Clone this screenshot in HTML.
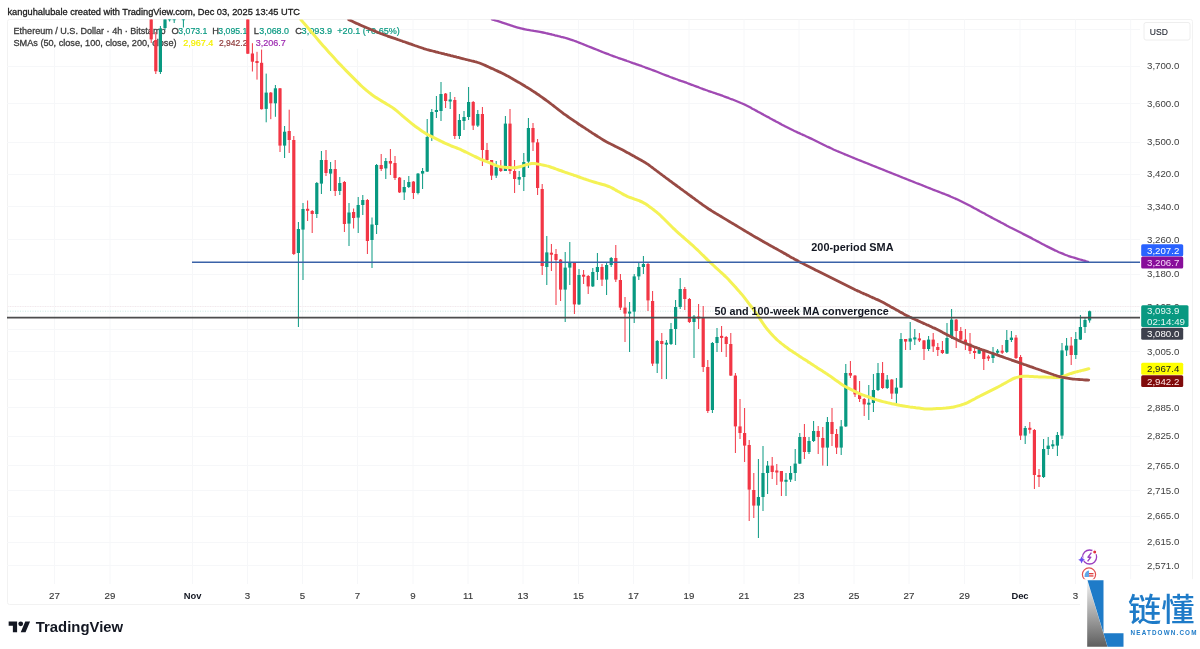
<!DOCTYPE html>
<html><head><meta charset="utf-8"><style>
html,body{margin:0;padding:0;background:#fff;}
body{width:1200px;height:649px;overflow:hidden;position:relative;font-family:"Liberation Sans",Arial,sans-serif;}
svg{position:absolute;left:0;top:0;}
.t{font-family:"Liberation Sans",Arial,sans-serif;}
</style></head><body>
<svg width="1200" height="649" viewBox="0 0 1200 649">
<defs><clipPath id="pane"><rect x="7.5" y="19.5" width="1132.5" height="564.5"/></clipPath>
<linearGradient id="lg" x1="0" y1="0" x2="0" y2="1"><stop offset="0" stop-color="#f4f4f4"/><stop offset="1" stop-color="#5e5e5e"/></linearGradient></defs>
<rect x="7.5" y="19.5" width="1185" height="585" rx="2" fill="#fff" stroke="#f2f2f2" stroke-width="1"/>
<line x1="54.5" y1="49.0" x2="54.5" y2="584" stroke="#f6f7f9" stroke-width="1"/>
<line x1="110.0" y1="49.0" x2="110.0" y2="584" stroke="#f6f7f9" stroke-width="1"/>
<line x1="192.5" y1="49.0" x2="192.5" y2="584" stroke="#f6f7f9" stroke-width="1"/>
<line x1="247.5" y1="49.0" x2="247.5" y2="584" stroke="#f6f7f9" stroke-width="1"/>
<line x1="302.5" y1="49.0" x2="302.5" y2="584" stroke="#f6f7f9" stroke-width="1"/>
<line x1="357.5" y1="49.0" x2="357.5" y2="584" stroke="#f6f7f9" stroke-width="1"/>
<line x1="413.0" y1="19.5" x2="413.0" y2="584" stroke="#f6f7f9" stroke-width="1"/>
<line x1="468.0" y1="19.5" x2="468.0" y2="584" stroke="#f6f7f9" stroke-width="1"/>
<line x1="523.0" y1="19.5" x2="523.0" y2="584" stroke="#f6f7f9" stroke-width="1"/>
<line x1="578.5" y1="19.5" x2="578.5" y2="584" stroke="#f6f7f9" stroke-width="1"/>
<line x1="633.5" y1="19.5" x2="633.5" y2="584" stroke="#f6f7f9" stroke-width="1"/>
<line x1="689.0" y1="19.5" x2="689.0" y2="584" stroke="#f6f7f9" stroke-width="1"/>
<line x1="744.0" y1="19.5" x2="744.0" y2="584" stroke="#f6f7f9" stroke-width="1"/>
<line x1="799.0" y1="19.5" x2="799.0" y2="584" stroke="#f6f7f9" stroke-width="1"/>
<line x1="854.0" y1="19.5" x2="854.0" y2="584" stroke="#f6f7f9" stroke-width="1"/>
<line x1="909.0" y1="19.5" x2="909.0" y2="584" stroke="#f6f7f9" stroke-width="1"/>
<line x1="964.5" y1="19.5" x2="964.5" y2="584" stroke="#f6f7f9" stroke-width="1"/>
<line x1="1020.0" y1="19.5" x2="1020.0" y2="584" stroke="#f6f7f9" stroke-width="1"/>
<line x1="1075.5" y1="19.5" x2="1075.5" y2="584" stroke="#f6f7f9" stroke-width="1"/>
<line x1="1130.7" y1="19.5" x2="1130.7" y2="584" stroke="#f6f7f9" stroke-width="1"/>
<line x1="400" y1="29.5" x2="1140" y2="29.5" stroke="#f6f7f9" stroke-width="1"/>
<line x1="7" y1="66.5" x2="1140" y2="66.5" stroke="#f6f7f9" stroke-width="1"/>
<line x1="7" y1="103.5" x2="1140" y2="103.5" stroke="#f6f7f9" stroke-width="1"/>
<line x1="7" y1="142.5" x2="1140" y2="142.5" stroke="#f6f7f9" stroke-width="1"/>
<line x1="7" y1="174.5" x2="1140" y2="174.5" stroke="#f6f7f9" stroke-width="1"/>
<line x1="7" y1="206.5" x2="1140" y2="206.5" stroke="#f6f7f9" stroke-width="1"/>
<line x1="7" y1="239.5" x2="1140" y2="239.5" stroke="#f6f7f9" stroke-width="1"/>
<line x1="7" y1="274.5" x2="1140" y2="274.5" stroke="#f6f7f9" stroke-width="1"/>
<line x1="7" y1="306.5" x2="1140" y2="306.5" stroke="#f6f7f9" stroke-width="1"/>
<line x1="7" y1="329.5" x2="1140" y2="329.5" stroke="#f6f7f9" stroke-width="1"/>
<line x1="7" y1="351.5" x2="1140" y2="351.5" stroke="#f6f7f9" stroke-width="1"/>
<line x1="7" y1="379.5" x2="1140" y2="379.5" stroke="#f6f7f9" stroke-width="1"/>
<line x1="7" y1="407.5" x2="1140" y2="407.5" stroke="#f6f7f9" stroke-width="1"/>
<line x1="7" y1="436.5" x2="1140" y2="436.5" stroke="#f6f7f9" stroke-width="1"/>
<line x1="7" y1="465.5" x2="1140" y2="465.5" stroke="#f6f7f9" stroke-width="1"/>
<line x1="7" y1="490.5" x2="1140" y2="490.5" stroke="#f6f7f9" stroke-width="1"/>
<line x1="7" y1="516.5" x2="1140" y2="516.5" stroke="#f6f7f9" stroke-width="1"/>
<line x1="7" y1="542.5" x2="1140" y2="542.5" stroke="#f6f7f9" stroke-width="1"/>
<line x1="7" y1="565.5" x2="1140" y2="565.5" stroke="#f6f7f9" stroke-width="1"/>
<text font-family="Liberation Sans, Arial, sans-serif" x="7.5" y="14.8" font-size="9.60" fill="#1a1a1a" stroke="#1a1a1a" stroke-width="0.30" textLength="292.5" lengthAdjust="spacingAndGlyphs" >kanguhalubale created with TradingView.com, Dec 03, 2025 13:45 UTC</text>
<text font-family="Liberation Sans, Arial, sans-serif" x="13.5" y="33.9" font-size="9.30" fill="#3a3a3a" stroke="#3a3a3a" stroke-width="0.30" textLength="152.0" lengthAdjust="spacingAndGlyphs" >Ethereum / U.S. Dollar · 4h · Bitstamp</text>
<text font-family="Liberation Sans, Arial, sans-serif" x="171.5" y="33.9" font-size="9.30" fill="#3a3a3a" stroke="#3a3a3a" stroke-width="0.30" >O</text>
<text font-family="Liberation Sans, Arial, sans-serif" x="178.3" y="33.9" font-size="9.30" fill="#089981" stroke="#089981" stroke-width="0.20" textLength="29.0" lengthAdjust="spacingAndGlyphs" >3,073.1</text>
<text font-family="Liberation Sans, Arial, sans-serif" x="212.3" y="33.9" font-size="9.30" fill="#3a3a3a" stroke="#3a3a3a" stroke-width="0.30" >H</text>
<text font-family="Liberation Sans, Arial, sans-serif" x="218.3" y="33.9" font-size="9.30" fill="#089981" stroke="#089981" stroke-width="0.20" textLength="29.0" lengthAdjust="spacingAndGlyphs" >3,095.1</text>
<text font-family="Liberation Sans, Arial, sans-serif" x="253.8" y="33.9" font-size="9.30" fill="#3a3a3a" stroke="#3a3a3a" stroke-width="0.30" >L</text>
<text font-family="Liberation Sans, Arial, sans-serif" x="259.3" y="33.9" font-size="9.30" fill="#089981" stroke="#089981" stroke-width="0.20" textLength="29.7" lengthAdjust="spacingAndGlyphs" >3,068.0</text>
<text font-family="Liberation Sans, Arial, sans-serif" x="295.2" y="33.9" font-size="9.30" fill="#3a3a3a" stroke="#3a3a3a" stroke-width="0.30" >C</text>
<text font-family="Liberation Sans, Arial, sans-serif" x="301.6" y="33.9" font-size="9.30" fill="#089981" stroke="#089981" stroke-width="0.20" textLength="30.5" lengthAdjust="spacingAndGlyphs" >3,093.9</text>
<text font-family="Liberation Sans, Arial, sans-serif" x="337.3" y="33.9" font-size="9.30" fill="#089981" stroke="#089981" stroke-width="0.20" textLength="62.5" lengthAdjust="spacingAndGlyphs" >+20.1 (+0.65%)</text>
<text font-family="Liberation Sans, Arial, sans-serif" x="13.5" y="46.2" font-size="9.30" fill="#3a3a3a" stroke="#3a3a3a" stroke-width="0.30" textLength="163.0" lengthAdjust="spacingAndGlyphs" >SMAs (50, close, 100, close, 200, close)</text>
<text font-family="Liberation Sans, Arial, sans-serif" x="183.3" y="46.2" font-size="9.30" fill="#f5f000" stroke="#f5f000" stroke-width="0.20" textLength="30.0" lengthAdjust="spacingAndGlyphs" >2,967.4</text>
<text font-family="Liberation Sans, Arial, sans-serif" x="219.0" y="46.2" font-size="9.30" fill="#8e3a3a" stroke="#8e3a3a" stroke-width="0.20" textLength="28.5" lengthAdjust="spacingAndGlyphs" >2,942.2</text>
<text font-family="Liberation Sans, Arial, sans-serif" x="255.7" y="46.2" font-size="9.30" fill="#9c27b0" stroke="#9c27b0" stroke-width="0.20" textLength="30.0" lengthAdjust="spacingAndGlyphs" >3,206.7</text>
<g clip-path="url(#pane)">
<line x1="151.20" y1="19.0" x2="151.20" y2="43.0" stroke="#F23645" stroke-width="1"/>
<rect x="149.60" y="19.0" width="3.2" height="20.4" fill="#F23645"/>
<line x1="155.80" y1="32.0" x2="155.80" y2="74.0" stroke="#F23645" stroke-width="1"/>
<rect x="154.20" y="40.0" width="3.2" height="31.3" fill="#F23645"/>
<line x1="160.40" y1="26.0" x2="160.40" y2="74.0" stroke="#089981" stroke-width="1"/>
<rect x="158.80" y="28.5" width="3.2" height="43.5" fill="#089981"/>
<line x1="165.00" y1="19.0" x2="165.00" y2="30.0" stroke="#089981" stroke-width="1"/>
<rect x="163.40" y="19.0" width="3.2" height="9.0" fill="#089981"/>
<line x1="169.60" y1="19.0" x2="169.60" y2="21.5" stroke="#089981" stroke-width="1"/>
<rect x="168.00" y="18.2" width="3.2" height="2.0" fill="#089981"/>
<line x1="174.20" y1="19.0" x2="174.20" y2="23.0" stroke="#089981" stroke-width="1"/>
<rect x="172.60" y="18.2" width="3.2" height="2.0" fill="#089981"/>
<line x1="183.40" y1="19.0" x2="183.40" y2="27.5" stroke="#089981" stroke-width="1"/>
<rect x="181.80" y="18.2" width="3.2" height="2.0" fill="#089981"/>
<line x1="247.80" y1="19.0" x2="247.80" y2="54.0" stroke="#F23645" stroke-width="1"/>
<rect x="246.20" y="19.0" width="3.2" height="34.7" fill="#F23645"/>
<line x1="252.40" y1="43.2" x2="252.40" y2="71.5" stroke="#F23645" stroke-width="1"/>
<rect x="250.80" y="53.5" width="3.2" height="8.2" fill="#F23645"/>
<line x1="257.00" y1="51.8" x2="257.00" y2="79.6" stroke="#F23645" stroke-width="1"/>
<rect x="255.40" y="61.0" width="3.2" height="2.0" fill="#F23645"/>
<line x1="261.60" y1="49.6" x2="261.60" y2="109.5" stroke="#F23645" stroke-width="1"/>
<rect x="260.00" y="62.8" width="3.2" height="46.4" fill="#F23645"/>
<line x1="266.20" y1="73.6" x2="266.20" y2="122.3" stroke="#089981" stroke-width="1"/>
<rect x="264.60" y="92.6" width="3.2" height="16.3" fill="#089981"/>
<line x1="270.80" y1="92.0" x2="270.80" y2="119.2" stroke="#F23645" stroke-width="1"/>
<rect x="269.20" y="92.6" width="3.2" height="10.7" fill="#F23645"/>
<line x1="275.40" y1="85.0" x2="275.40" y2="116.8" stroke="#089981" stroke-width="1"/>
<rect x="273.80" y="88.3" width="3.2" height="15.0" fill="#089981"/>
<line x1="280.00" y1="88.0" x2="280.00" y2="152.0" stroke="#F23645" stroke-width="1"/>
<rect x="278.40" y="88.3" width="3.2" height="57.3" fill="#F23645"/>
<line x1="284.60" y1="126.0" x2="284.60" y2="158.0" stroke="#089981" stroke-width="1"/>
<rect x="283.00" y="131.7" width="3.2" height="13.9" fill="#089981"/>
<line x1="289.20" y1="109.7" x2="289.20" y2="153.0" stroke="#F23645" stroke-width="1"/>
<rect x="287.60" y="131.0" width="3.2" height="9.0" fill="#F23645"/>
<line x1="293.80" y1="136.0" x2="293.80" y2="255.0" stroke="#F23645" stroke-width="1"/>
<rect x="292.20" y="140.0" width="3.2" height="114.0" fill="#F23645"/>
<line x1="298.40" y1="222.0" x2="298.40" y2="327.0" stroke="#089981" stroke-width="1"/>
<rect x="296.80" y="229.0" width="3.2" height="24.0" fill="#089981"/>
<line x1="303.00" y1="203.0" x2="303.00" y2="280.0" stroke="#089981" stroke-width="1"/>
<rect x="301.40" y="209.0" width="3.2" height="20.6" fill="#089981"/>
<line x1="307.60" y1="200.5" x2="307.60" y2="221.0" stroke="#F23645" stroke-width="1"/>
<rect x="306.00" y="208.8" width="3.2" height="2.0" fill="#F23645"/>
<line x1="312.20" y1="210.0" x2="312.20" y2="233.0" stroke="#F23645" stroke-width="1"/>
<rect x="310.60" y="211.0" width="3.2" height="3.0" fill="#F23645"/>
<line x1="316.80" y1="182.0" x2="316.80" y2="218.0" stroke="#089981" stroke-width="1"/>
<rect x="315.20" y="183.0" width="3.2" height="31.0" fill="#089981"/>
<line x1="321.40" y1="151.0" x2="321.40" y2="194.0" stroke="#089981" stroke-width="1"/>
<rect x="319.80" y="160.0" width="3.2" height="23.6" fill="#089981"/>
<line x1="326.00" y1="150.0" x2="326.00" y2="176.0" stroke="#F23645" stroke-width="1"/>
<rect x="324.40" y="160.0" width="3.2" height="13.0" fill="#F23645"/>
<line x1="330.60" y1="162.0" x2="330.60" y2="191.0" stroke="#089981" stroke-width="1"/>
<rect x="329.00" y="169.0" width="3.2" height="4.6" fill="#089981"/>
<line x1="335.20" y1="160.0" x2="335.20" y2="196.0" stroke="#F23645" stroke-width="1"/>
<rect x="333.60" y="169.0" width="3.2" height="22.0" fill="#F23645"/>
<line x1="339.80" y1="177.0" x2="339.80" y2="195.0" stroke="#089981" stroke-width="1"/>
<rect x="338.20" y="183.0" width="3.2" height="8.0" fill="#089981"/>
<line x1="344.40" y1="181.0" x2="344.40" y2="232.0" stroke="#F23645" stroke-width="1"/>
<rect x="342.80" y="182.0" width="3.2" height="42.0" fill="#F23645"/>
<line x1="349.00" y1="203.0" x2="349.00" y2="246.0" stroke="#089981" stroke-width="1"/>
<rect x="347.40" y="212.5" width="3.2" height="11.1" fill="#089981"/>
<line x1="353.60" y1="208.5" x2="353.60" y2="228.5" stroke="#F23645" stroke-width="1"/>
<rect x="352.00" y="212.0" width="3.2" height="6.0" fill="#F23645"/>
<line x1="358.20" y1="197.0" x2="358.20" y2="233.0" stroke="#089981" stroke-width="1"/>
<rect x="356.60" y="205.0" width="3.2" height="12.6" fill="#089981"/>
<line x1="362.80" y1="195.0" x2="362.80" y2="215.0" stroke="#089981" stroke-width="1"/>
<rect x="361.20" y="200.0" width="3.2" height="5.0" fill="#089981"/>
<line x1="367.40" y1="199.0" x2="367.40" y2="254.0" stroke="#F23645" stroke-width="1"/>
<rect x="365.80" y="200.0" width="3.2" height="41.0" fill="#F23645"/>
<line x1="372.00" y1="217.5" x2="372.00" y2="268.0" stroke="#089981" stroke-width="1"/>
<rect x="370.40" y="224.5" width="3.2" height="15.5" fill="#089981"/>
<line x1="376.60" y1="164.0" x2="376.60" y2="234.0" stroke="#089981" stroke-width="1"/>
<rect x="375.00" y="165.0" width="3.2" height="60.0" fill="#089981"/>
<line x1="381.20" y1="154.0" x2="381.20" y2="171.0" stroke="#F23645" stroke-width="1"/>
<rect x="379.60" y="165.0" width="3.2" height="4.0" fill="#F23645"/>
<line x1="385.80" y1="158.0" x2="385.80" y2="179.0" stroke="#089981" stroke-width="1"/>
<rect x="384.20" y="161.0" width="3.2" height="7.4" fill="#089981"/>
<line x1="390.40" y1="149.0" x2="390.40" y2="175.0" stroke="#F23645" stroke-width="1"/>
<rect x="388.80" y="161.0" width="3.2" height="2.6" fill="#F23645"/>
<line x1="395.00" y1="156.0" x2="395.00" y2="180.0" stroke="#F23645" stroke-width="1"/>
<rect x="393.40" y="163.0" width="3.2" height="15.0" fill="#F23645"/>
<line x1="399.60" y1="177.0" x2="399.60" y2="193.0" stroke="#F23645" stroke-width="1"/>
<rect x="398.00" y="177.6" width="3.2" height="14.8" fill="#F23645"/>
<line x1="404.20" y1="180.0" x2="404.20" y2="200.0" stroke="#089981" stroke-width="1"/>
<rect x="402.60" y="187.0" width="3.2" height="5.4" fill="#089981"/>
<line x1="408.80" y1="176.0" x2="408.80" y2="188.0" stroke="#089981" stroke-width="1"/>
<rect x="407.20" y="182.0" width="3.2" height="5.0" fill="#089981"/>
<line x1="413.40" y1="181.0" x2="413.40" y2="199.0" stroke="#F23645" stroke-width="1"/>
<rect x="411.80" y="181.6" width="3.2" height="11.4" fill="#F23645"/>
<line x1="418.00" y1="173.0" x2="418.00" y2="194.4" stroke="#089981" stroke-width="1"/>
<rect x="416.40" y="173.6" width="3.2" height="19.4" fill="#089981"/>
<line x1="422.60" y1="168.0" x2="422.60" y2="189.0" stroke="#089981" stroke-width="1"/>
<rect x="421.00" y="171.0" width="3.2" height="2.6" fill="#089981"/>
<line x1="427.20" y1="119.0" x2="427.20" y2="172.0" stroke="#089981" stroke-width="1"/>
<rect x="425.60" y="137.0" width="3.2" height="34.6" fill="#089981"/>
<line x1="431.80" y1="109.0" x2="431.80" y2="141.0" stroke="#089981" stroke-width="1"/>
<rect x="430.20" y="112.0" width="3.2" height="25.0" fill="#089981"/>
<line x1="436.40" y1="96.0" x2="436.40" y2="118.0" stroke="#089981" stroke-width="1"/>
<rect x="434.80" y="110.0" width="3.2" height="2.0" fill="#089981"/>
<line x1="441.00" y1="82.0" x2="441.00" y2="121.0" stroke="#089981" stroke-width="1"/>
<rect x="439.40" y="94.0" width="3.2" height="17.0" fill="#089981"/>
<line x1="445.60" y1="93.0" x2="445.60" y2="108.0" stroke="#F23645" stroke-width="1"/>
<rect x="444.00" y="93.6" width="3.2" height="7.4" fill="#F23645"/>
<line x1="450.20" y1="92.0" x2="450.20" y2="109.0" stroke="#089981" stroke-width="1"/>
<rect x="448.60" y="99.5" width="3.2" height="2.0" fill="#089981"/>
<line x1="454.80" y1="97.0" x2="454.80" y2="139.0" stroke="#F23645" stroke-width="1"/>
<rect x="453.20" y="100.0" width="3.2" height="36.0" fill="#F23645"/>
<line x1="459.40" y1="114.0" x2="459.40" y2="139.0" stroke="#089981" stroke-width="1"/>
<rect x="457.80" y="120.0" width="3.2" height="16.0" fill="#089981"/>
<line x1="464.00" y1="111.0" x2="464.00" y2="130.0" stroke="#089981" stroke-width="1"/>
<rect x="462.40" y="117.0" width="3.2" height="4.0" fill="#089981"/>
<line x1="468.60" y1="87.0" x2="468.60" y2="120.0" stroke="#089981" stroke-width="1"/>
<rect x="467.00" y="102.0" width="3.2" height="15.0" fill="#089981"/>
<line x1="473.20" y1="101.0" x2="473.20" y2="130.0" stroke="#F23645" stroke-width="1"/>
<rect x="471.60" y="102.0" width="3.2" height="23.6" fill="#F23645"/>
<line x1="477.80" y1="110.0" x2="477.80" y2="127.0" stroke="#089981" stroke-width="1"/>
<rect x="476.20" y="114.0" width="3.2" height="11.6" fill="#089981"/>
<line x1="482.40" y1="107.0" x2="482.40" y2="166.0" stroke="#F23645" stroke-width="1"/>
<rect x="480.80" y="114.0" width="3.2" height="36.0" fill="#F23645"/>
<line x1="487.00" y1="143.0" x2="487.00" y2="163.0" stroke="#F23645" stroke-width="1"/>
<rect x="485.40" y="150.0" width="3.2" height="10.0" fill="#F23645"/>
<line x1="491.60" y1="160.0" x2="491.60" y2="180.0" stroke="#F23645" stroke-width="1"/>
<rect x="490.00" y="160.0" width="3.2" height="15.6" fill="#F23645"/>
<line x1="496.20" y1="161.0" x2="496.20" y2="178.0" stroke="#089981" stroke-width="1"/>
<rect x="494.60" y="167.0" width="3.2" height="8.6" fill="#089981"/>
<line x1="500.80" y1="160.0" x2="500.80" y2="172.0" stroke="#F23645" stroke-width="1"/>
<rect x="499.20" y="167.0" width="3.2" height="4.0" fill="#F23645"/>
<line x1="505.40" y1="116.0" x2="505.40" y2="171.0" stroke="#089981" stroke-width="1"/>
<rect x="503.80" y="123.6" width="3.2" height="47.4" fill="#089981"/>
<line x1="510.00" y1="109.0" x2="510.00" y2="174.0" stroke="#F23645" stroke-width="1"/>
<rect x="508.40" y="123.6" width="3.2" height="47.4" fill="#F23645"/>
<line x1="514.60" y1="160.0" x2="514.60" y2="193.0" stroke="#F23645" stroke-width="1"/>
<rect x="513.00" y="171.0" width="3.2" height="8.0" fill="#F23645"/>
<line x1="519.20" y1="171.0" x2="519.20" y2="185.0" stroke="#089981" stroke-width="1"/>
<rect x="517.60" y="177.0" width="3.2" height="2.6" fill="#089981"/>
<line x1="523.80" y1="153.0" x2="523.80" y2="191.0" stroke="#089981" stroke-width="1"/>
<rect x="522.20" y="162.0" width="3.2" height="15.0" fill="#089981"/>
<line x1="528.40" y1="118.0" x2="528.40" y2="168.0" stroke="#089981" stroke-width="1"/>
<rect x="526.80" y="128.0" width="3.2" height="33.6" fill="#089981"/>
<line x1="533.00" y1="123.0" x2="533.00" y2="151.0" stroke="#F23645" stroke-width="1"/>
<rect x="531.40" y="128.0" width="3.2" height="14.4" fill="#F23645"/>
<line x1="537.60" y1="139.0" x2="537.60" y2="195.0" stroke="#F23645" stroke-width="1"/>
<rect x="536.00" y="142.4" width="3.2" height="45.6" fill="#F23645"/>
<line x1="542.20" y1="184.0" x2="542.20" y2="275.0" stroke="#F23645" stroke-width="1"/>
<rect x="540.60" y="189.0" width="3.2" height="77.0" fill="#F23645"/>
<line x1="546.80" y1="236.0" x2="546.80" y2="285.0" stroke="#089981" stroke-width="1"/>
<rect x="545.20" y="252.4" width="3.2" height="14.6" fill="#089981"/>
<line x1="551.40" y1="244.0" x2="551.40" y2="271.0" stroke="#F23645" stroke-width="1"/>
<rect x="549.80" y="252.7" width="3.2" height="2.0" fill="#F23645"/>
<line x1="556.00" y1="249.0" x2="556.00" y2="305.0" stroke="#F23645" stroke-width="1"/>
<rect x="554.40" y="254.0" width="3.2" height="6.0" fill="#F23645"/>
<line x1="560.60" y1="259.0" x2="560.60" y2="301.0" stroke="#F23645" stroke-width="1"/>
<rect x="559.00" y="259.6" width="3.2" height="30.0" fill="#F23645"/>
<line x1="565.20" y1="252.0" x2="565.20" y2="322.0" stroke="#089981" stroke-width="1"/>
<rect x="563.60" y="267.6" width="3.2" height="22.0" fill="#089981"/>
<line x1="569.80" y1="242.0" x2="569.80" y2="285.0" stroke="#089981" stroke-width="1"/>
<rect x="568.20" y="262.4" width="3.2" height="5.2" fill="#089981"/>
<line x1="574.40" y1="262.0" x2="574.40" y2="314.0" stroke="#F23645" stroke-width="1"/>
<rect x="572.80" y="262.4" width="3.2" height="42.0" fill="#F23645"/>
<line x1="579.00" y1="269.0" x2="579.00" y2="305.0" stroke="#089981" stroke-width="1"/>
<rect x="577.40" y="275.0" width="3.2" height="29.4" fill="#089981"/>
<line x1="583.60" y1="270.0" x2="583.60" y2="284.0" stroke="#F23645" stroke-width="1"/>
<rect x="582.00" y="274.7" width="3.2" height="2.0" fill="#F23645"/>
<line x1="588.20" y1="275.0" x2="588.20" y2="294.0" stroke="#F23645" stroke-width="1"/>
<rect x="586.60" y="276.0" width="3.2" height="10.4" fill="#F23645"/>
<line x1="592.80" y1="268.0" x2="592.80" y2="287.0" stroke="#089981" stroke-width="1"/>
<rect x="591.20" y="272.0" width="3.2" height="14.4" fill="#089981"/>
<line x1="597.40" y1="253.0" x2="597.40" y2="280.0" stroke="#089981" stroke-width="1"/>
<rect x="595.80" y="267.0" width="3.2" height="5.0" fill="#089981"/>
<line x1="602.00" y1="264.0" x2="602.00" y2="286.0" stroke="#F23645" stroke-width="1"/>
<rect x="600.40" y="267.0" width="3.2" height="12.6" fill="#F23645"/>
<line x1="606.60" y1="262.0" x2="606.60" y2="295.0" stroke="#089981" stroke-width="1"/>
<rect x="605.00" y="265.0" width="3.2" height="14.6" fill="#089981"/>
<line x1="611.20" y1="257.0" x2="611.20" y2="267.0" stroke="#089981" stroke-width="1"/>
<rect x="609.60" y="258.0" width="3.2" height="7.0" fill="#089981"/>
<line x1="615.80" y1="245.0" x2="615.80" y2="282.0" stroke="#F23645" stroke-width="1"/>
<rect x="614.20" y="258.0" width="3.2" height="21.6" fill="#F23645"/>
<line x1="620.40" y1="274.0" x2="620.40" y2="310.0" stroke="#F23645" stroke-width="1"/>
<rect x="618.80" y="280.0" width="3.2" height="27.6" fill="#F23645"/>
<line x1="625.00" y1="297.0" x2="625.00" y2="342.0" stroke="#F23645" stroke-width="1"/>
<rect x="623.40" y="307.6" width="3.2" height="6.0" fill="#F23645"/>
<line x1="629.60" y1="302.0" x2="629.60" y2="352.0" stroke="#089981" stroke-width="1"/>
<rect x="628.00" y="311.6" width="3.2" height="2.0" fill="#089981"/>
<line x1="634.20" y1="274.0" x2="634.20" y2="323.0" stroke="#089981" stroke-width="1"/>
<rect x="632.60" y="276.4" width="3.2" height="35.2" fill="#089981"/>
<line x1="638.80" y1="263.0" x2="638.80" y2="280.0" stroke="#089981" stroke-width="1"/>
<rect x="637.20" y="267.0" width="3.2" height="9.4" fill="#089981"/>
<line x1="643.40" y1="256.0" x2="643.40" y2="274.0" stroke="#089981" stroke-width="1"/>
<rect x="641.80" y="264.0" width="3.2" height="3.0" fill="#089981"/>
<line x1="648.00" y1="263.0" x2="648.00" y2="311.0" stroke="#F23645" stroke-width="1"/>
<rect x="646.40" y="264.0" width="3.2" height="36.4" fill="#F23645"/>
<line x1="652.60" y1="291.0" x2="652.60" y2="366.0" stroke="#F23645" stroke-width="1"/>
<rect x="651.00" y="301.0" width="3.2" height="62.6" fill="#F23645"/>
<line x1="657.20" y1="340.0" x2="657.20" y2="373.0" stroke="#089981" stroke-width="1"/>
<rect x="655.60" y="341.0" width="3.2" height="22.6" fill="#089981"/>
<line x1="661.80" y1="333.0" x2="661.80" y2="379.0" stroke="#F23645" stroke-width="1"/>
<rect x="660.20" y="341.0" width="3.2" height="3.0" fill="#F23645"/>
<line x1="666.40" y1="340.0" x2="666.40" y2="379.0" stroke="#089981" stroke-width="1"/>
<rect x="664.80" y="342.7" width="3.2" height="2.0" fill="#089981"/>
<line x1="671.00" y1="323.0" x2="671.00" y2="345.0" stroke="#089981" stroke-width="1"/>
<rect x="669.40" y="329.0" width="3.2" height="15.0" fill="#089981"/>
<line x1="675.60" y1="300.0" x2="675.60" y2="345.0" stroke="#089981" stroke-width="1"/>
<rect x="674.00" y="307.0" width="3.2" height="22.0" fill="#089981"/>
<line x1="680.20" y1="278.0" x2="680.20" y2="309.0" stroke="#089981" stroke-width="1"/>
<rect x="678.60" y="289.0" width="3.2" height="18.0" fill="#089981"/>
<line x1="684.80" y1="287.0" x2="684.80" y2="310.0" stroke="#F23645" stroke-width="1"/>
<rect x="683.20" y="289.0" width="3.2" height="10.0" fill="#F23645"/>
<line x1="689.40" y1="298.0" x2="689.40" y2="323.0" stroke="#F23645" stroke-width="1"/>
<rect x="687.80" y="299.0" width="3.2" height="23.0" fill="#F23645"/>
<line x1="694.00" y1="315.0" x2="694.00" y2="358.0" stroke="#089981" stroke-width="1"/>
<rect x="692.40" y="316.6" width="3.2" height="5.4" fill="#089981"/>
<line x1="698.60" y1="304.0" x2="698.60" y2="329.0" stroke="#F23645" stroke-width="1"/>
<rect x="697.00" y="316.5" width="3.2" height="2.0" fill="#F23645"/>
<line x1="703.20" y1="306.0" x2="703.20" y2="372.0" stroke="#F23645" stroke-width="1"/>
<rect x="701.60" y="317.0" width="3.2" height="50.0" fill="#F23645"/>
<line x1="707.80" y1="360.0" x2="707.80" y2="413.0" stroke="#F23645" stroke-width="1"/>
<rect x="706.20" y="367.0" width="3.2" height="44.0" fill="#F23645"/>
<line x1="712.40" y1="342.0" x2="712.40" y2="413.0" stroke="#089981" stroke-width="1"/>
<rect x="710.80" y="343.0" width="3.2" height="67.0" fill="#089981"/>
<line x1="717.00" y1="328.0" x2="717.00" y2="352.0" stroke="#089981" stroke-width="1"/>
<rect x="715.40" y="337.0" width="3.2" height="6.0" fill="#089981"/>
<line x1="721.60" y1="326.0" x2="721.60" y2="352.0" stroke="#F23645" stroke-width="1"/>
<rect x="720.00" y="335.9" width="3.2" height="2.0" fill="#F23645"/>
<line x1="726.20" y1="336.0" x2="726.20" y2="357.0" stroke="#F23645" stroke-width="1"/>
<rect x="724.60" y="337.0" width="3.2" height="7.0" fill="#F23645"/>
<line x1="730.80" y1="333.0" x2="730.80" y2="376.0" stroke="#F23645" stroke-width="1"/>
<rect x="729.20" y="344.0" width="3.2" height="31.6" fill="#F23645"/>
<line x1="735.40" y1="373.0" x2="735.40" y2="453.0" stroke="#F23645" stroke-width="1"/>
<rect x="733.80" y="375.6" width="3.2" height="50.8" fill="#F23645"/>
<line x1="740.00" y1="399.0" x2="740.00" y2="439.0" stroke="#F23645" stroke-width="1"/>
<rect x="738.40" y="426.4" width="3.2" height="6.6" fill="#F23645"/>
<line x1="744.60" y1="408.0" x2="744.60" y2="462.0" stroke="#F23645" stroke-width="1"/>
<rect x="743.00" y="433.0" width="3.2" height="12.6" fill="#F23645"/>
<line x1="749.20" y1="440.0" x2="749.20" y2="521.0" stroke="#F23645" stroke-width="1"/>
<rect x="747.60" y="445.0" width="3.2" height="44.6" fill="#F23645"/>
<line x1="753.80" y1="473.0" x2="753.80" y2="518.0" stroke="#F23645" stroke-width="1"/>
<rect x="752.20" y="490.0" width="3.2" height="15.6" fill="#F23645"/>
<line x1="758.40" y1="459.0" x2="758.40" y2="538.0" stroke="#089981" stroke-width="1"/>
<rect x="756.80" y="497.0" width="3.2" height="8.6" fill="#089981"/>
<line x1="763.00" y1="446.0" x2="763.00" y2="511.0" stroke="#089981" stroke-width="1"/>
<rect x="761.40" y="473.0" width="3.2" height="24.0" fill="#089981"/>
<line x1="767.60" y1="461.0" x2="767.60" y2="494.0" stroke="#089981" stroke-width="1"/>
<rect x="766.00" y="465.6" width="3.2" height="7.4" fill="#089981"/>
<line x1="772.20" y1="457.0" x2="772.20" y2="479.0" stroke="#F23645" stroke-width="1"/>
<rect x="770.60" y="465.6" width="3.2" height="6.4" fill="#F23645"/>
<line x1="776.80" y1="464.0" x2="776.80" y2="485.0" stroke="#F23645" stroke-width="1"/>
<rect x="775.20" y="470.5" width="3.2" height="2.0" fill="#F23645"/>
<line x1="781.40" y1="471.0" x2="781.40" y2="496.0" stroke="#F23645" stroke-width="1"/>
<rect x="779.80" y="471.0" width="3.2" height="10.6" fill="#F23645"/>
<line x1="786.00" y1="473.0" x2="786.00" y2="496.0" stroke="#089981" stroke-width="1"/>
<rect x="784.40" y="479.8" width="3.2" height="2.0" fill="#089981"/>
<line x1="790.60" y1="466.0" x2="790.60" y2="482.0" stroke="#089981" stroke-width="1"/>
<rect x="789.00" y="473.0" width="3.2" height="6.6" fill="#089981"/>
<line x1="795.20" y1="449.0" x2="795.20" y2="481.0" stroke="#089981" stroke-width="1"/>
<rect x="793.60" y="463.6" width="3.2" height="9.4" fill="#089981"/>
<line x1="799.80" y1="433.0" x2="799.80" y2="464.0" stroke="#089981" stroke-width="1"/>
<rect x="798.20" y="437.0" width="3.2" height="26.6" fill="#089981"/>
<line x1="804.40" y1="424.0" x2="804.40" y2="459.0" stroke="#F23645" stroke-width="1"/>
<rect x="802.80" y="437.0" width="3.2" height="15.0" fill="#F23645"/>
<line x1="809.00" y1="437.0" x2="809.00" y2="454.0" stroke="#089981" stroke-width="1"/>
<rect x="807.40" y="441.0" width="3.2" height="11.0" fill="#089981"/>
<line x1="813.60" y1="421.0" x2="813.60" y2="442.0" stroke="#089981" stroke-width="1"/>
<rect x="812.00" y="431.0" width="3.2" height="10.0" fill="#089981"/>
<line x1="818.20" y1="426.0" x2="818.20" y2="454.0" stroke="#F23645" stroke-width="1"/>
<rect x="816.60" y="431.0" width="3.2" height="6.0" fill="#F23645"/>
<line x1="822.80" y1="427.0" x2="822.80" y2="465.6" stroke="#F23645" stroke-width="1"/>
<rect x="821.20" y="438.0" width="3.2" height="9.6" fill="#F23645"/>
<line x1="827.40" y1="417.0" x2="827.40" y2="466.0" stroke="#089981" stroke-width="1"/>
<rect x="825.80" y="422.0" width="3.2" height="25.6" fill="#089981"/>
<line x1="832.00" y1="408.0" x2="832.00" y2="446.0" stroke="#F23645" stroke-width="1"/>
<rect x="830.40" y="422.0" width="3.2" height="12.0" fill="#F23645"/>
<line x1="836.60" y1="429.0" x2="836.60" y2="454.0" stroke="#F23645" stroke-width="1"/>
<rect x="835.00" y="434.0" width="3.2" height="13.6" fill="#F23645"/>
<line x1="841.20" y1="420.0" x2="841.20" y2="455.0" stroke="#089981" stroke-width="1"/>
<rect x="839.60" y="426.4" width="3.2" height="21.2" fill="#089981"/>
<line x1="845.80" y1="364.0" x2="845.80" y2="427.0" stroke="#089981" stroke-width="1"/>
<rect x="844.20" y="373.0" width="3.2" height="53.4" fill="#089981"/>
<line x1="850.40" y1="361.0" x2="850.40" y2="378.0" stroke="#F23645" stroke-width="1"/>
<rect x="848.80" y="373.0" width="3.2" height="2.6" fill="#F23645"/>
<line x1="855.00" y1="375.0" x2="855.00" y2="397.0" stroke="#F23645" stroke-width="1"/>
<rect x="853.40" y="375.6" width="3.2" height="18.8" fill="#F23645"/>
<line x1="859.60" y1="381.0" x2="859.60" y2="402.0" stroke="#F23645" stroke-width="1"/>
<rect x="858.00" y="394.4" width="3.2" height="4.6" fill="#F23645"/>
<line x1="864.20" y1="398.0" x2="864.20" y2="416.0" stroke="#F23645" stroke-width="1"/>
<rect x="862.60" y="399.0" width="3.2" height="5.4" fill="#F23645"/>
<line x1="868.80" y1="385.0" x2="868.80" y2="420.0" stroke="#089981" stroke-width="1"/>
<rect x="867.20" y="402.7" width="3.2" height="2.0" fill="#089981"/>
<line x1="873.40" y1="374.0" x2="873.40" y2="412.0" stroke="#089981" stroke-width="1"/>
<rect x="871.80" y="390.0" width="3.2" height="13.0" fill="#089981"/>
<line x1="878.00" y1="363.0" x2="878.00" y2="391.0" stroke="#089981" stroke-width="1"/>
<rect x="876.40" y="373.0" width="3.2" height="17.0" fill="#089981"/>
<line x1="882.60" y1="362.0" x2="882.60" y2="389.0" stroke="#F23645" stroke-width="1"/>
<rect x="881.00" y="373.0" width="3.2" height="15.0" fill="#F23645"/>
<line x1="887.20" y1="375.0" x2="887.20" y2="389.0" stroke="#089981" stroke-width="1"/>
<rect x="885.60" y="379.6" width="3.2" height="8.4" fill="#089981"/>
<line x1="891.80" y1="379.0" x2="891.80" y2="399.0" stroke="#F23645" stroke-width="1"/>
<rect x="890.20" y="379.6" width="3.2" height="14.0" fill="#F23645"/>
<line x1="896.40" y1="378.0" x2="896.40" y2="405.0" stroke="#089981" stroke-width="1"/>
<rect x="894.80" y="387.6" width="3.2" height="6.0" fill="#089981"/>
<line x1="901.00" y1="333.0" x2="901.00" y2="388.0" stroke="#089981" stroke-width="1"/>
<rect x="899.40" y="339.0" width="3.2" height="48.6" fill="#089981"/>
<line x1="905.60" y1="339.0" x2="905.60" y2="350.0" stroke="#F23645" stroke-width="1"/>
<rect x="904.00" y="339.0" width="3.2" height="2.6" fill="#F23645"/>
<line x1="910.20" y1="322.0" x2="910.20" y2="350.0" stroke="#089981" stroke-width="1"/>
<rect x="908.60" y="338.4" width="3.2" height="3.2" fill="#089981"/>
<line x1="914.80" y1="329.0" x2="914.80" y2="345.0" stroke="#089981" stroke-width="1"/>
<rect x="913.20" y="337.4" width="3.2" height="2.0" fill="#089981"/>
<line x1="919.40" y1="333.0" x2="919.40" y2="342.0" stroke="#F23645" stroke-width="1"/>
<rect x="917.80" y="338.4" width="3.2" height="2.0" fill="#F23645"/>
<line x1="924.00" y1="340.0" x2="924.00" y2="360.0" stroke="#F23645" stroke-width="1"/>
<rect x="922.40" y="340.4" width="3.2" height="8.6" fill="#F23645"/>
<line x1="928.60" y1="336.0" x2="928.60" y2="351.0" stroke="#089981" stroke-width="1"/>
<rect x="927.00" y="339.6" width="3.2" height="9.4" fill="#089981"/>
<line x1="933.20" y1="333.0" x2="933.20" y2="352.0" stroke="#F23645" stroke-width="1"/>
<rect x="931.60" y="339.6" width="3.2" height="6.8" fill="#F23645"/>
<line x1="937.80" y1="343.0" x2="937.80" y2="356.0" stroke="#F23645" stroke-width="1"/>
<rect x="936.20" y="347.0" width="3.2" height="3.0" fill="#F23645"/>
<line x1="942.40" y1="341.0" x2="942.40" y2="354.0" stroke="#F23645" stroke-width="1"/>
<rect x="940.80" y="350.0" width="3.2" height="3.0" fill="#F23645"/>
<line x1="947.00" y1="323.0" x2="947.00" y2="354.0" stroke="#089981" stroke-width="1"/>
<rect x="945.40" y="338.0" width="3.2" height="15.6" fill="#089981"/>
<line x1="951.60" y1="309.0" x2="951.60" y2="339.0" stroke="#089981" stroke-width="1"/>
<rect x="950.00" y="319.6" width="3.2" height="18.4" fill="#089981"/>
<line x1="956.20" y1="319.0" x2="956.20" y2="348.0" stroke="#F23645" stroke-width="1"/>
<rect x="954.60" y="319.6" width="3.2" height="11.4" fill="#F23645"/>
<line x1="960.80" y1="327.0" x2="960.80" y2="341.0" stroke="#F23645" stroke-width="1"/>
<rect x="959.20" y="331.0" width="3.2" height="8.6" fill="#F23645"/>
<line x1="965.40" y1="329.0" x2="965.40" y2="350.0" stroke="#F23645" stroke-width="1"/>
<rect x="963.80" y="339.6" width="3.2" height="4.4" fill="#F23645"/>
<line x1="970.00" y1="333.0" x2="970.00" y2="354.0" stroke="#F23645" stroke-width="1"/>
<rect x="968.40" y="343.6" width="3.2" height="7.4" fill="#F23645"/>
<line x1="974.60" y1="346.0" x2="974.60" y2="359.0" stroke="#F23645" stroke-width="1"/>
<rect x="973.00" y="351.0" width="3.2" height="2.0" fill="#F23645"/>
<line x1="979.20" y1="347.0" x2="979.20" y2="354.0" stroke="#089981" stroke-width="1"/>
<rect x="977.60" y="349.6" width="3.2" height="4.0" fill="#089981"/>
<line x1="983.80" y1="349.0" x2="983.80" y2="370.0" stroke="#F23645" stroke-width="1"/>
<rect x="982.20" y="350.0" width="3.2" height="9.0" fill="#F23645"/>
<line x1="988.40" y1="355.0" x2="988.40" y2="361.0" stroke="#F23645" stroke-width="1"/>
<rect x="986.80" y="356.5" width="3.2" height="2.0" fill="#F23645"/>
<line x1="993.00" y1="347.0" x2="993.00" y2="363.0" stroke="#089981" stroke-width="1"/>
<rect x="991.40" y="352.4" width="3.2" height="5.6" fill="#089981"/>
<line x1="997.60" y1="349.0" x2="997.60" y2="354.0" stroke="#089981" stroke-width="1"/>
<rect x="996.00" y="350.7" width="3.2" height="2.0" fill="#089981"/>
<line x1="1002.20" y1="345.0" x2="1002.20" y2="354.0" stroke="#F23645" stroke-width="1"/>
<rect x="1000.60" y="350.7" width="3.2" height="2.0" fill="#F23645"/>
<line x1="1006.80" y1="330.0" x2="1006.80" y2="353.0" stroke="#089981" stroke-width="1"/>
<rect x="1005.20" y="340.0" width="3.2" height="12.0" fill="#089981"/>
<line x1="1011.40" y1="331.0" x2="1011.40" y2="342.0" stroke="#089981" stroke-width="1"/>
<rect x="1009.80" y="337.6" width="3.2" height="2.4" fill="#089981"/>
<line x1="1016.00" y1="335.0" x2="1016.00" y2="359.0" stroke="#F23645" stroke-width="1"/>
<rect x="1014.40" y="337.6" width="3.2" height="20.4" fill="#F23645"/>
<line x1="1020.60" y1="355.0" x2="1020.60" y2="440.0" stroke="#F23645" stroke-width="1"/>
<rect x="1019.00" y="357.0" width="3.2" height="78.6" fill="#F23645"/>
<line x1="1025.20" y1="426.0" x2="1025.20" y2="444.0" stroke="#089981" stroke-width="1"/>
<rect x="1023.60" y="428.0" width="3.2" height="7.6" fill="#089981"/>
<line x1="1029.80" y1="422.0" x2="1029.80" y2="433.6" stroke="#F23645" stroke-width="1"/>
<rect x="1028.20" y="427.8" width="3.2" height="2.0" fill="#F23645"/>
<line x1="1034.40" y1="429.0" x2="1034.40" y2="489.0" stroke="#F23645" stroke-width="1"/>
<rect x="1032.80" y="430.0" width="3.2" height="45.0" fill="#F23645"/>
<line x1="1039.00" y1="469.0" x2="1039.00" y2="487.0" stroke="#F23645" stroke-width="1"/>
<rect x="1037.40" y="475.0" width="3.2" height="2.0" fill="#F23645"/>
<line x1="1043.60" y1="439.0" x2="1043.60" y2="478.0" stroke="#089981" stroke-width="1"/>
<rect x="1042.00" y="449.0" width="3.2" height="28.0" fill="#089981"/>
<line x1="1048.20" y1="437.0" x2="1048.20" y2="455.0" stroke="#089981" stroke-width="1"/>
<rect x="1046.60" y="445.6" width="3.2" height="3.4" fill="#089981"/>
<line x1="1052.80" y1="440.0" x2="1052.80" y2="449.0" stroke="#089981" stroke-width="1"/>
<rect x="1051.20" y="444.3" width="3.2" height="2.0" fill="#089981"/>
<line x1="1057.40" y1="432.0" x2="1057.40" y2="456.0" stroke="#089981" stroke-width="1"/>
<rect x="1055.80" y="435.0" width="3.2" height="10.6" fill="#089981"/>
<line x1="1062.00" y1="343.0" x2="1062.00" y2="439.0" stroke="#089981" stroke-width="1"/>
<rect x="1060.40" y="350.4" width="3.2" height="85.2" fill="#089981"/>
<line x1="1066.60" y1="338.0" x2="1066.60" y2="356.0" stroke="#089981" stroke-width="1"/>
<rect x="1065.00" y="345.6" width="3.2" height="4.8" fill="#089981"/>
<line x1="1071.20" y1="337.0" x2="1071.20" y2="365.0" stroke="#F23645" stroke-width="1"/>
<rect x="1069.60" y="345.6" width="3.2" height="9.4" fill="#F23645"/>
<line x1="1075.80" y1="332.0" x2="1075.80" y2="359.0" stroke="#089981" stroke-width="1"/>
<rect x="1074.20" y="339.0" width="3.2" height="16.0" fill="#089981"/>
<line x1="1080.40" y1="315.0" x2="1080.40" y2="340.0" stroke="#089981" stroke-width="1"/>
<rect x="1078.80" y="327.0" width="3.2" height="12.6" fill="#089981"/>
<line x1="1085.00" y1="318.0" x2="1085.00" y2="333.0" stroke="#089981" stroke-width="1"/>
<rect x="1083.40" y="320.0" width="3.2" height="7.0" fill="#089981"/>
<line x1="1089.60" y1="310.6" x2="1089.60" y2="322.7" stroke="#089981" stroke-width="1"/>
<rect x="1088.00" y="311.2" width="3.2" height="9.2" fill="#089981"/>
<path d="M300.8 19.6 C301.3 20.2 302.8 21.9 303.8 23.1 C304.8 24.2 305.8 25.4 306.8 26.5 C307.8 27.7 308.8 28.8 309.8 30.0 C310.8 31.2 311.8 32.4 312.8 33.5 C313.8 34.7 314.8 35.9 315.8 37.1 C316.8 38.3 317.8 39.5 318.8 40.7 C319.8 41.9 320.8 43.1 321.8 44.2 C322.8 45.4 323.8 46.5 324.8 47.6 C325.8 48.7 326.8 49.8 327.8 51.0 C328.8 52.1 329.8 53.2 330.8 54.3 C331.8 55.4 332.8 56.5 333.8 57.6 C334.8 58.7 335.8 59.8 336.8 60.9 C337.8 62.0 338.8 63.1 339.8 64.1 C340.8 65.2 341.8 66.3 342.8 67.3 C343.8 68.4 344.8 69.4 345.8 70.4 C346.8 71.4 347.8 72.4 348.8 73.4 C349.8 74.4 350.8 75.4 351.8 76.4 C352.8 77.4 353.8 78.4 354.8 79.4 C355.8 80.4 356.8 81.4 357.8 82.4 C358.8 83.4 359.8 84.4 360.8 85.4 C361.8 86.3 362.8 87.2 363.8 88.1 C364.8 89.0 365.8 89.8 366.8 90.7 C367.8 91.5 368.8 92.3 369.8 93.1 C370.8 93.8 371.8 94.6 372.8 95.3 C373.8 96.1 374.8 96.7 375.8 97.4 C376.8 98.0 377.8 98.6 378.8 99.2 C379.8 99.9 380.8 100.5 381.8 101.1 C382.8 101.7 383.8 102.3 384.8 102.9 C385.8 103.5 386.8 104.1 387.8 104.7 C388.8 105.3 389.8 105.8 390.8 106.5 C391.8 107.1 392.8 107.7 393.8 108.5 C394.8 109.2 395.8 110.0 396.8 110.8 C397.8 111.7 398.8 112.6 399.8 113.5 C400.8 114.4 401.8 115.3 402.8 116.2 C403.8 117.0 404.8 117.9 405.8 118.7 C406.8 119.6 407.8 120.4 408.8 121.2 C409.8 122.0 410.8 122.8 411.8 123.6 C412.8 124.4 413.8 125.1 414.8 125.9 C415.8 126.6 416.8 127.4 417.8 128.1 C418.8 128.8 419.8 129.5 420.8 130.2 C421.8 130.9 422.8 131.6 423.8 132.2 C424.8 132.9 425.8 133.5 426.8 134.1 C427.8 134.6 428.8 135.1 429.8 135.7 C430.8 136.2 431.8 136.7 432.8 137.2 C433.8 137.7 434.8 138.2 435.8 138.7 C436.8 139.2 437.8 139.7 438.8 140.2 C439.8 140.7 440.8 141.2 441.8 141.7 C442.8 142.2 443.8 142.7 444.8 143.1 C445.8 143.6 446.8 144.0 447.8 144.4 C448.8 144.9 449.8 145.3 450.8 145.7 C451.8 146.0 452.8 146.4 453.8 146.8 C454.8 147.2 455.8 147.6 456.8 148.0 C457.8 148.4 458.8 148.8 459.8 149.2 C460.8 149.7 461.8 150.1 462.8 150.6 C463.8 151.1 464.8 151.6 465.8 152.0 C466.8 152.5 467.8 153.0 468.8 153.5 C469.8 154.0 470.8 154.5 471.8 155.0 C472.8 155.5 473.8 156.0 474.8 156.5 C475.8 156.9 476.8 157.4 477.8 157.9 C478.8 158.4 479.8 158.8 480.8 159.3 C481.8 159.7 482.8 160.1 483.8 160.5 C484.8 160.9 485.8 161.3 486.8 161.7 C487.8 162.1 488.8 162.5 489.8 162.9 C490.8 163.3 491.8 163.7 492.8 164.1 C493.8 164.5 494.8 164.9 495.8 165.3 C496.8 165.7 497.8 166.1 498.8 166.4 C499.8 166.6 500.8 166.8 501.8 167.0 C502.8 167.2 503.8 167.2 504.8 167.3 C505.8 167.4 506.8 167.4 507.8 167.5 C508.8 167.6 509.8 167.6 510.8 167.7 C511.8 167.7 512.8 167.8 513.8 167.8 C514.8 167.7 515.8 167.7 516.8 167.5 C517.8 167.3 518.8 167.1 519.8 166.8 C520.8 166.5 521.8 166.2 522.8 165.9 C523.8 165.6 524.8 165.2 525.8 164.9 C526.8 164.6 527.8 164.3 528.8 164.1 C529.8 163.8 530.8 163.6 531.8 163.5 C532.8 163.4 533.8 163.5 534.8 163.6 C535.8 163.7 536.8 163.9 537.8 164.1 C538.8 164.3 539.8 164.5 540.8 164.6 C541.8 164.8 542.8 165.0 543.8 165.2 C544.8 165.4 545.8 165.6 546.8 165.9 C547.8 166.1 548.8 166.4 549.8 166.7 C550.8 167.0 551.8 167.4 552.8 167.8 C553.8 168.1 554.8 168.5 555.8 168.9 C556.8 169.2 557.8 169.6 558.8 170.0 C559.8 170.3 560.8 170.7 561.8 171.0 C562.8 171.4 563.8 171.7 564.8 172.1 C565.8 172.4 566.8 172.8 567.8 173.1 C568.8 173.5 569.8 173.8 570.8 174.1 C571.8 174.5 572.8 174.8 573.8 175.2 C574.8 175.5 575.8 175.9 576.8 176.2 C577.8 176.6 578.8 176.9 579.8 177.3 C580.8 177.6 581.8 178.0 582.8 178.3 C583.8 178.7 584.8 179.0 585.8 179.3 C586.8 179.7 587.8 180.0 588.8 180.4 C589.8 180.7 590.8 181.1 591.8 181.4 C592.8 181.7 593.8 182.0 594.8 182.3 C595.8 182.6 596.8 182.9 597.8 183.1 C598.8 183.4 599.8 183.7 600.8 184.0 C601.8 184.3 602.8 184.6 603.8 184.8 C604.8 185.1 605.8 185.4 606.8 185.8 C607.8 186.1 608.8 186.5 609.8 186.9 C610.8 187.3 611.8 187.9 612.8 188.4 C613.8 189.0 614.8 189.5 615.8 190.1 C616.8 190.7 617.8 191.2 618.8 191.8 C619.8 192.4 620.8 193.0 621.8 193.5 C622.8 194.1 623.8 194.6 624.8 195.2 C625.8 195.7 626.8 196.1 627.8 196.6 C628.8 197.0 629.8 197.4 630.8 197.7 C631.8 198.1 632.8 198.5 633.8 198.8 C634.8 199.2 635.8 199.5 636.8 199.9 C637.8 200.3 638.8 200.6 639.8 201.0 C640.8 201.4 641.8 201.8 642.8 202.3 C643.8 202.8 644.8 203.4 645.8 204.0 C646.8 204.7 647.8 205.4 648.8 206.2 C649.8 206.9 650.8 207.6 651.8 208.4 C652.8 209.2 653.8 209.9 654.8 210.7 C655.8 211.4 656.8 212.2 657.8 213.1 C658.8 213.9 659.8 214.8 660.8 215.8 C661.8 216.7 662.8 217.7 663.8 218.7 C664.8 219.7 665.8 220.7 666.8 221.7 C667.8 222.7 668.8 223.7 669.8 224.7 C670.8 225.7 671.8 226.7 672.8 227.7 C673.8 228.7 674.8 229.6 675.8 230.6 C676.8 231.5 677.8 232.4 678.8 233.3 C679.8 234.2 680.8 235.1 681.8 236.0 C682.8 236.8 683.8 237.7 684.8 238.6 C685.8 239.5 686.8 240.4 687.8 241.2 C688.8 242.1 689.8 243.0 690.8 243.9 C691.8 244.8 692.8 245.6 693.8 246.5 C694.8 247.5 695.8 248.4 696.8 249.3 C697.8 250.3 698.8 251.2 699.8 252.2 C700.8 253.2 701.8 254.2 702.8 255.2 C703.8 256.1 704.8 257.1 705.8 258.1 C706.8 259.1 707.8 260.0 708.8 261.0 C709.8 262.0 710.8 262.9 711.8 263.9 C712.8 264.8 713.8 265.7 714.8 266.6 C715.8 267.6 716.8 268.5 717.8 269.4 C718.8 270.3 719.8 271.2 720.8 272.2 C721.8 273.1 722.8 274.0 723.8 274.9 C724.8 275.9 725.8 276.8 726.8 277.8 C727.8 278.8 728.8 279.8 729.8 280.9 C730.8 282.0 731.8 283.1 732.8 284.2 C733.8 285.3 734.8 286.4 735.8 287.5 C736.8 288.7 737.8 289.8 738.8 290.9 C739.8 292.1 740.8 293.2 741.8 294.4 C742.8 295.6 743.8 296.9 744.8 298.2 C745.8 299.5 746.8 300.8 747.8 302.1 C748.8 303.4 749.8 304.7 750.8 306.0 C751.8 307.3 752.8 308.6 753.8 310.0 C754.8 311.3 755.8 312.7 756.8 314.2 C757.8 315.6 758.8 317.1 759.8 318.6 C760.8 320.1 761.8 321.6 762.8 323.1 C763.8 324.5 764.8 326.0 765.8 327.3 C766.8 328.7 767.8 329.9 768.8 331.0 C769.8 332.2 770.8 333.3 771.8 334.4 C772.8 335.4 773.8 336.5 774.8 337.5 C775.8 338.6 776.8 339.6 777.8 340.5 C778.8 341.4 779.8 342.2 780.8 343.0 C781.8 343.9 782.8 344.6 783.8 345.3 C784.8 346.1 785.8 346.9 786.8 347.6 C787.8 348.3 788.8 349.1 789.8 349.8 C790.8 350.5 791.8 351.1 792.8 351.8 C793.8 352.5 794.8 353.1 795.8 353.8 C796.8 354.4 797.8 355.1 798.8 355.7 C799.8 356.4 800.8 357.0 801.8 357.7 C802.8 358.3 803.8 359.0 804.8 359.6 C805.8 360.3 806.8 360.9 807.8 361.6 C808.8 362.2 809.8 362.9 810.8 363.5 C811.8 364.2 812.8 364.8 813.8 365.5 C814.8 366.1 815.8 366.8 816.8 367.4 C817.8 368.1 818.8 368.7 819.8 369.4 C820.8 370.0 821.8 370.7 822.8 371.3 C823.8 372.0 824.8 372.6 825.8 373.3 C826.8 373.9 827.8 374.6 828.8 375.3 C829.8 375.9 830.8 376.6 831.8 377.3 C832.8 378.0 833.8 378.7 834.8 379.4 C835.8 380.1 836.8 380.9 837.8 381.6 C838.8 382.3 839.8 383.0 840.8 383.7 C841.8 384.4 842.8 385.1 843.8 385.7 C844.8 386.3 845.8 386.8 846.8 387.4 C847.8 387.9 848.8 388.4 849.8 388.9 C850.8 389.4 851.8 389.9 852.8 390.4 C853.8 390.9 854.8 391.4 855.8 391.9 C856.8 392.4 857.8 392.9 858.8 393.3 C859.8 393.8 860.8 394.2 861.8 394.6 C862.8 395.0 863.8 395.3 864.8 395.7 C865.8 396.0 866.8 396.4 867.8 396.7 C868.8 397.1 869.8 397.4 870.8 397.8 C871.8 398.1 872.8 398.5 873.8 398.8 C874.8 399.2 875.8 399.5 876.8 399.9 C877.8 400.2 878.8 400.5 879.8 400.8 C880.8 401.1 881.8 401.4 882.8 401.6 C883.8 401.9 884.8 402.1 885.8 402.3 C886.8 402.5 887.8 402.8 888.8 403.0 C889.8 403.2 890.8 403.4 891.8 403.7 C892.8 403.9 893.8 404.1 894.8 404.3 C895.8 404.6 896.8 404.8 897.8 405.0 C898.8 405.2 899.8 405.4 900.8 405.6 C901.8 405.7 902.8 405.9 903.8 406.0 C904.8 406.2 905.8 406.3 906.8 406.4 C907.8 406.6 908.8 406.7 909.8 406.9 C910.8 407.0 911.8 407.1 912.8 407.3 C913.8 407.4 914.8 407.5 915.8 407.7 C916.8 407.8 917.8 408.0 918.8 408.1 C919.8 408.2 920.8 408.4 921.8 408.5 C922.8 408.6 923.8 408.8 924.8 408.9 C925.8 409.0 926.8 409.1 927.8 409.1 C928.8 409.1 929.8 409.1 930.8 409.0 C931.8 409.0 932.8 408.9 933.8 408.8 C934.8 408.8 935.8 408.7 936.8 408.6 C937.8 408.5 938.8 408.5 939.8 408.4 C940.8 408.3 941.8 408.2 942.8 408.2 C943.8 408.1 944.8 408.0 945.8 408.0 C946.8 407.9 947.8 407.8 948.8 407.7 C949.8 407.6 950.8 407.5 951.8 407.3 C952.8 407.2 953.8 406.9 954.8 406.7 C955.8 406.5 956.8 406.2 957.8 405.9 C958.8 405.7 959.8 405.4 960.8 405.1 C961.8 404.8 962.8 404.6 963.8 404.2 C964.8 403.8 965.8 403.4 966.8 403.0 C967.8 402.5 968.8 402.0 969.8 401.4 C970.8 400.9 971.8 400.4 972.8 399.8 C973.8 399.3 974.8 398.8 975.8 398.2 C976.8 397.7 977.8 397.2 978.8 396.7 C979.8 396.1 980.8 395.6 981.8 395.1 C982.8 394.6 983.8 394.1 984.8 393.6 C985.8 393.1 986.8 392.6 987.8 392.1 C988.8 391.6 989.8 391.1 990.8 390.6 C991.8 390.1 992.8 389.6 993.8 389.1 C994.8 388.6 995.8 388.1 996.8 387.6 C997.8 387.1 998.8 386.6 999.8 386.0 C1000.8 385.5 1001.8 384.9 1002.8 384.4 C1003.8 383.8 1004.8 383.3 1005.8 382.7 C1006.8 382.1 1007.8 381.5 1008.8 381.0 C1009.8 380.4 1010.8 379.8 1011.8 379.3 C1012.8 378.8 1013.8 378.4 1014.8 378.0 C1015.8 377.6 1016.8 377.3 1017.8 377.1 C1018.8 376.8 1019.8 376.6 1020.8 376.5 C1021.8 376.3 1022.8 376.2 1023.8 376.2 C1024.8 376.2 1025.8 376.2 1026.8 376.3 C1027.8 376.3 1028.8 376.4 1029.8 376.4 C1030.8 376.5 1031.8 376.5 1032.8 376.6 C1033.8 376.7 1034.8 376.7 1035.8 376.8 C1036.8 376.8 1037.8 376.9 1038.8 376.9 C1039.8 377.0 1040.8 377.0 1041.8 377.0 C1042.8 377.1 1043.8 377.1 1044.8 377.1 C1045.8 377.2 1046.8 377.2 1047.8 377.2 C1048.8 377.3 1049.8 377.3 1050.8 377.3 C1051.8 377.4 1052.8 377.4 1053.8 377.4 C1054.8 377.4 1055.8 377.5 1056.8 377.5 C1057.8 377.4 1058.8 377.4 1059.8 377.2 C1060.8 377.1 1061.8 376.8 1062.8 376.5 C1063.8 376.2 1064.8 375.7 1065.8 375.4 C1066.8 375.0 1067.8 374.6 1068.8 374.2 C1069.8 373.9 1070.8 373.5 1071.8 373.2 C1072.8 372.9 1073.8 372.6 1074.8 372.3 C1075.8 372.0 1076.8 371.8 1077.8 371.5 C1078.8 371.2 1079.8 371.0 1080.8 370.7 C1081.8 370.5 1082.8 370.2 1083.8 370.0 C1084.8 369.7 1086.0 369.4 1086.8 369.2 C1087.6 369.0 1088.5 368.8 1088.8 368.7" fill="none" stroke="#f4f255" stroke-width="3.0" stroke-linejoin="round" stroke-linecap="round"/>
<path d="M348.7 19.6 C349.2 19.8 350.7 20.5 351.7 21.0 C352.7 21.5 353.7 21.9 354.7 22.4 C355.7 22.9 356.7 23.4 357.7 23.8 C358.7 24.3 359.7 24.8 360.7 25.2 C361.7 25.7 362.7 26.1 363.7 26.5 C364.7 27.0 365.7 27.4 366.7 27.8 C367.7 28.2 368.7 28.6 369.7 29.0 C370.7 29.4 371.7 29.8 372.7 30.2 C373.7 30.6 374.7 31.0 375.7 31.4 C376.7 31.9 377.7 32.3 378.7 32.7 C379.7 33.1 380.7 33.5 381.7 33.8 C382.7 34.2 383.7 34.6 384.7 35.0 C385.7 35.4 386.7 35.7 387.7 36.1 C388.7 36.4 389.7 36.8 390.7 37.1 C391.7 37.5 392.7 37.8 393.7 38.2 C394.7 38.5 395.7 38.8 396.7 39.2 C397.7 39.5 398.7 39.9 399.7 40.2 C400.7 40.6 401.7 40.9 402.7 41.3 C403.7 41.6 404.7 42.0 405.7 42.3 C406.7 42.7 407.7 43.0 408.7 43.4 C409.7 43.7 410.7 44.1 411.7 44.4 C412.7 44.8 413.7 45.1 414.7 45.5 C415.7 45.8 416.7 46.2 417.7 46.5 C418.7 46.9 419.7 47.2 420.7 47.5 C421.7 47.9 422.7 48.2 423.7 48.6 C424.7 48.9 425.7 49.2 426.7 49.5 C427.7 49.8 428.7 50.0 429.7 50.3 C430.7 50.6 431.7 50.8 432.7 51.0 C433.7 51.3 434.7 51.5 435.7 51.8 C436.7 52.1 437.7 52.3 438.7 52.6 C439.7 52.8 440.7 53.0 441.7 53.3 C442.7 53.6 443.7 53.8 444.7 54.1 C445.7 54.3 446.7 54.6 447.7 54.8 C448.7 55.1 449.7 55.3 450.7 55.6 C451.7 55.8 452.7 56.1 453.7 56.3 C454.7 56.6 455.7 56.8 456.7 57.1 C457.7 57.3 458.7 57.6 459.7 57.8 C460.7 58.1 461.7 58.4 462.7 58.6 C463.7 58.9 464.7 59.1 465.7 59.4 C466.7 59.6 467.7 59.9 468.7 60.1 C469.7 60.4 470.7 60.6 471.7 60.9 C472.7 61.1 473.7 61.4 474.7 61.7 C475.7 61.9 476.7 62.2 477.7 62.5 C478.7 62.8 479.7 63.1 480.7 63.5 C481.7 63.9 482.7 64.3 483.7 64.7 C484.7 65.2 485.7 65.6 486.7 66.1 C487.7 66.5 488.7 67.0 489.7 67.4 C490.7 67.9 491.7 68.4 492.7 68.8 C493.7 69.3 494.7 69.7 495.7 70.2 C496.7 70.7 497.7 71.1 498.7 71.6 C499.7 72.0 500.7 72.5 501.7 73.0 C502.7 73.5 503.7 74.0 504.7 74.5 C505.7 75.0 506.7 75.5 507.7 76.1 C508.7 76.6 509.7 77.2 510.7 77.8 C511.7 78.3 512.7 78.9 513.7 79.5 C514.7 80.0 515.7 80.6 516.7 81.2 C517.7 81.7 518.7 82.3 519.7 82.9 C520.7 83.5 521.7 84.1 522.7 84.7 C523.7 85.3 524.7 85.9 525.7 86.6 C526.7 87.2 527.7 87.8 528.7 88.4 C529.7 89.1 530.7 89.7 531.7 90.3 C532.7 91.0 533.7 91.6 534.7 92.2 C535.7 92.9 536.7 93.6 537.7 94.3 C538.7 94.9 539.7 95.7 540.7 96.4 C541.7 97.1 542.7 97.8 543.7 98.5 C544.7 99.2 545.7 99.9 546.7 100.7 C547.7 101.4 548.7 102.1 549.7 102.9 C550.7 103.6 551.7 104.4 552.7 105.1 C553.7 105.9 554.7 106.7 555.7 107.5 C556.7 108.3 557.7 109.1 558.7 109.8 C559.7 110.6 560.7 111.4 561.7 112.2 C562.7 112.9 563.7 113.7 564.7 114.4 C565.7 115.1 566.7 115.8 567.7 116.5 C568.7 117.2 569.7 117.9 570.7 118.6 C571.7 119.3 572.7 120.0 573.7 120.7 C574.7 121.4 575.7 122.0 576.7 122.7 C577.7 123.4 578.7 124.1 579.7 124.8 C580.7 125.4 581.7 126.1 582.7 126.7 C583.7 127.4 584.7 128.0 585.7 128.7 C586.7 129.3 587.7 130.0 588.7 130.6 C589.7 131.3 590.7 131.9 591.7 132.6 C592.7 133.2 593.7 133.9 594.7 134.5 C595.7 135.2 596.7 135.8 597.7 136.5 C598.7 137.1 599.7 137.8 600.7 138.4 C601.7 139.0 602.7 139.6 603.7 140.2 C604.7 140.8 605.7 141.4 606.7 141.9 C607.7 142.4 608.7 142.9 609.7 143.4 C610.7 144.0 611.7 144.4 612.7 144.9 C613.7 145.5 614.7 145.9 615.7 146.5 C616.7 147.0 617.7 147.5 618.7 148.0 C619.7 148.5 620.7 149.0 621.7 149.5 C622.7 150.0 623.7 150.6 624.7 151.1 C625.7 151.7 626.7 152.2 627.7 152.8 C628.7 153.3 629.7 153.9 630.7 154.4 C631.7 155.0 632.7 155.5 633.7 156.1 C634.7 156.6 635.7 157.2 636.7 157.7 C637.7 158.3 638.7 158.9 639.7 159.4 C640.7 160.0 641.7 160.5 642.7 161.1 C643.7 161.7 644.7 162.3 645.7 162.9 C646.7 163.6 647.7 164.2 648.7 164.9 C649.7 165.6 650.7 166.4 651.7 167.1 C652.7 167.9 653.7 168.6 654.7 169.4 C655.7 170.1 656.7 170.9 657.7 171.6 C658.7 172.4 659.7 173.1 660.7 173.9 C661.7 174.6 662.7 175.4 663.7 176.1 C664.7 176.9 665.7 177.6 666.7 178.4 C667.7 179.1 668.7 179.8 669.7 180.6 C670.7 181.3 671.7 182.1 672.7 182.8 C673.7 183.5 674.7 184.3 675.7 185.0 C676.7 185.7 677.7 186.5 678.7 187.2 C679.7 187.9 680.7 188.7 681.7 189.4 C682.7 190.1 683.7 190.9 684.7 191.6 C685.7 192.3 686.7 193.1 687.7 193.8 C688.7 194.5 689.7 195.3 690.7 196.0 C691.7 196.7 692.7 197.5 693.7 198.2 C694.7 198.9 695.7 199.7 696.7 200.4 C697.7 201.1 698.7 201.9 699.7 202.6 C700.7 203.3 701.7 204.1 702.7 204.8 C703.7 205.5 704.7 206.2 705.7 206.9 C706.7 207.6 707.7 208.3 708.7 209.0 C709.7 209.6 710.7 210.2 711.7 210.9 C712.7 211.5 713.7 212.1 714.7 212.7 C715.7 213.3 716.7 213.9 717.7 214.5 C718.7 215.1 719.7 215.7 720.7 216.3 C721.7 216.9 722.7 217.5 723.7 218.1 C724.7 218.7 725.7 219.3 726.7 219.9 C727.7 220.5 728.7 221.1 729.7 221.7 C730.7 222.3 731.7 222.9 732.7 223.5 C733.7 224.1 734.7 224.7 735.7 225.3 C736.7 225.9 737.7 226.5 738.7 227.1 C739.7 227.7 740.7 228.3 741.7 228.9 C742.7 229.5 743.7 230.1 744.7 230.7 C745.7 231.3 746.7 231.9 747.7 232.5 C748.7 233.1 749.7 233.7 750.7 234.3 C751.7 234.9 752.7 235.5 753.7 236.1 C754.7 236.7 755.7 237.2 756.7 237.8 C757.7 238.4 758.7 239.0 759.7 239.5 C760.7 240.1 761.7 240.7 762.7 241.2 C763.7 241.8 764.7 242.4 765.7 242.9 C766.7 243.5 767.7 244.0 768.7 244.6 C769.7 245.2 770.7 245.7 771.7 246.3 C772.7 246.8 773.7 247.4 774.7 248.0 C775.7 248.5 776.7 249.1 777.7 249.6 C778.7 250.2 779.7 250.8 780.7 251.3 C781.7 251.9 782.7 252.5 783.7 253.0 C784.7 253.6 785.7 254.1 786.7 254.7 C787.7 255.3 788.7 255.8 789.7 256.4 C790.7 256.9 791.7 257.5 792.7 258.1 C793.7 258.6 794.7 259.2 795.7 259.7 C796.7 260.3 797.7 260.8 798.7 261.4 C799.7 261.9 800.7 262.4 801.7 262.9 C802.7 263.5 803.7 264.0 804.7 264.5 C805.7 265.0 806.7 265.5 807.7 266.0 C808.7 266.5 809.7 267.0 810.7 267.5 C811.7 268.0 812.7 268.5 813.7 269.0 C814.7 269.5 815.7 270.0 816.7 270.6 C817.7 271.1 818.7 271.6 819.7 272.1 C820.7 272.6 821.7 273.1 822.7 273.6 C823.7 274.1 824.7 274.6 825.7 275.1 C826.7 275.6 827.7 276.1 828.7 276.6 C829.7 277.1 830.7 277.6 831.7 278.1 C832.7 278.6 833.7 279.1 834.7 279.6 C835.7 280.1 836.7 280.6 837.7 281.1 C838.7 281.6 839.7 282.1 840.7 282.6 C841.7 283.1 842.7 283.6 843.7 284.1 C844.7 284.6 845.7 285.1 846.7 285.6 C847.7 286.1 848.7 286.6 849.7 287.1 C850.7 287.6 851.7 288.1 852.7 288.6 C853.7 289.1 854.7 289.5 855.7 290.0 C856.7 290.4 857.7 290.9 858.7 291.3 C859.7 291.8 860.7 292.2 861.7 292.7 C862.7 293.1 863.7 293.6 864.7 294.0 C865.7 294.4 866.7 294.9 867.7 295.3 C868.7 295.8 869.7 296.2 870.7 296.7 C871.7 297.1 872.7 297.6 873.7 298.0 C874.7 298.5 875.7 298.9 876.7 299.4 C877.7 299.8 878.7 300.3 879.7 300.8 C880.7 301.3 881.7 301.8 882.7 302.3 C883.7 302.8 884.7 303.4 885.7 303.9 C886.7 304.5 887.7 305.0 888.7 305.6 C889.7 306.1 890.7 306.7 891.7 307.2 C892.7 307.8 893.7 308.3 894.7 308.9 C895.7 309.5 896.7 310.0 897.7 310.6 C898.7 311.1 899.7 311.7 900.7 312.2 C901.7 312.8 902.7 313.3 903.7 313.9 C904.7 314.4 905.7 314.9 906.7 315.5 C907.7 316.0 908.7 316.5 909.7 317.0 C910.7 317.4 911.7 317.9 912.7 318.4 C913.7 318.8 914.7 319.3 915.7 319.7 C916.7 320.2 917.7 320.6 918.7 321.1 C919.7 321.5 920.7 322.0 921.7 322.4 C922.7 322.9 923.7 323.3 924.7 323.8 C925.7 324.2 926.7 324.7 927.7 325.1 C928.7 325.6 929.7 326.0 930.7 326.5 C931.7 327.0 932.7 327.4 933.7 327.9 C934.7 328.3 935.7 328.8 936.7 329.3 C937.7 329.8 938.7 330.3 939.7 330.8 C940.7 331.3 941.7 331.8 942.7 332.4 C943.7 332.9 944.7 333.4 945.7 333.9 C946.7 334.4 947.7 334.9 948.7 335.5 C949.7 336.0 950.7 336.5 951.7 337.0 C952.7 337.5 953.7 338.0 954.7 338.6 C955.7 339.1 956.7 339.6 957.7 340.1 C958.7 340.5 959.7 341.0 960.7 341.5 C961.7 341.9 962.7 342.3 963.7 342.7 C964.7 343.1 965.7 343.5 966.7 343.9 C967.7 344.3 968.7 344.6 969.7 345.0 C970.7 345.4 971.7 345.8 972.7 346.2 C973.7 346.6 974.7 347.0 975.7 347.3 C976.7 347.7 977.7 348.1 978.7 348.5 C979.7 348.8 980.7 349.2 981.7 349.6 C982.7 349.9 983.7 350.3 984.7 350.6 C985.7 351.0 986.7 351.3 987.7 351.7 C988.7 352.0 989.7 352.4 990.7 352.7 C991.7 353.1 992.7 353.4 993.7 353.8 C994.7 354.1 995.7 354.5 996.7 354.8 C997.7 355.2 998.7 355.5 999.7 355.9 C1000.7 356.2 1001.7 356.6 1002.7 356.9 C1003.7 357.3 1004.7 357.6 1005.7 358.0 C1006.7 358.3 1007.7 358.7 1008.7 359.0 C1009.7 359.4 1010.7 359.7 1011.7 360.1 C1012.7 360.4 1013.7 360.8 1014.7 361.1 C1015.7 361.5 1016.7 361.8 1017.7 362.2 C1018.7 362.5 1019.7 362.9 1020.7 363.2 C1021.7 363.6 1022.7 363.9 1023.7 364.3 C1024.7 364.6 1025.7 365.0 1026.7 365.3 C1027.7 365.7 1028.7 366.0 1029.7 366.4 C1030.7 366.7 1031.7 367.1 1032.7 367.4 C1033.7 367.8 1034.7 368.1 1035.7 368.5 C1036.7 368.8 1037.7 369.2 1038.7 369.5 C1039.7 369.9 1040.7 370.2 1041.7 370.6 C1042.7 370.9 1043.7 371.3 1044.7 371.6 C1045.7 372.0 1046.7 372.3 1047.7 372.7 C1048.7 373.0 1049.7 373.4 1050.7 373.7 C1051.7 374.1 1052.7 374.4 1053.7 374.8 C1054.7 375.1 1055.7 375.5 1056.7 375.8 C1057.7 376.1 1058.7 376.4 1059.7 376.7 C1060.7 377.0 1061.7 377.2 1062.7 377.4 C1063.7 377.6 1064.7 377.8 1065.7 377.9 C1066.7 378.1 1067.7 378.3 1068.7 378.4 C1069.7 378.6 1070.7 378.7 1071.7 378.8 C1072.7 379.0 1073.7 379.1 1074.7 379.2 C1075.7 379.2 1076.7 379.3 1077.7 379.4 C1078.7 379.5 1079.7 379.5 1080.7 379.6 C1081.7 379.7 1082.7 379.7 1083.7 379.8 C1084.7 379.9 1085.9 380.0 1086.7 380.0 C1087.5 380.1 1088.4 380.1 1088.7 380.1" fill="none" stroke="#984a44" stroke-width="2.8" stroke-linejoin="round" stroke-linecap="round"/>
<path d="M492.0 19.4 C492.5 19.6 494.0 20.0 495.0 20.3 C496.0 20.6 497.0 20.9 498.0 21.2 C499.0 21.5 500.0 21.8 501.0 22.1 C502.0 22.5 503.0 22.8 504.0 23.1 C505.0 23.4 506.0 23.8 507.0 24.1 C508.0 24.4 509.0 24.8 510.0 25.1 C511.0 25.4 512.0 25.8 513.0 26.1 C514.0 26.4 515.0 26.8 516.0 27.1 C517.0 27.4 518.0 27.7 519.0 27.9 C520.0 28.2 521.0 28.5 522.0 28.7 C523.0 28.9 524.0 29.1 525.0 29.3 C526.0 29.5 527.0 29.6 528.0 29.8 C529.0 30.0 530.0 30.1 531.0 30.3 C532.0 30.4 533.0 30.6 534.0 30.8 C535.0 30.9 536.0 31.1 537.0 31.3 C538.0 31.5 539.0 31.7 540.0 31.9 C541.0 32.1 542.0 32.3 543.0 32.5 C544.0 32.7 545.0 32.9 546.0 33.2 C547.0 33.4 548.0 33.6 549.0 33.8 C550.0 34.1 551.0 34.3 552.0 34.5 C553.0 34.8 554.0 35.0 555.0 35.3 C556.0 35.5 557.0 35.8 558.0 36.0 C559.0 36.3 560.0 36.5 561.0 36.8 C562.0 37.0 563.0 37.3 564.0 37.5 C565.0 37.8 566.0 38.1 567.0 38.4 C568.0 38.7 569.0 39.0 570.0 39.3 C571.0 39.6 572.0 40.0 573.0 40.3 C574.0 40.7 575.0 41.1 576.0 41.4 C577.0 41.8 578.0 42.2 579.0 42.6 C580.0 43.0 581.0 43.4 582.0 43.8 C583.0 44.2 584.0 44.6 585.0 45.0 C586.0 45.4 587.0 45.8 588.0 46.2 C589.0 46.6 590.0 47.0 591.0 47.4 C592.0 47.8 593.0 48.2 594.0 48.6 C595.0 49.0 596.0 49.4 597.0 49.8 C598.0 50.2 599.0 50.6 600.0 51.0 C601.0 51.4 602.0 51.8 603.0 52.2 C604.0 52.6 605.0 53.0 606.0 53.4 C607.0 53.8 608.0 54.1 609.0 54.5 C610.0 54.9 611.0 55.3 612.0 55.6 C613.0 56.0 614.0 56.4 615.0 56.7 C616.0 57.1 617.0 57.4 618.0 57.8 C619.0 58.1 620.0 58.5 621.0 58.8 C622.0 59.2 623.0 59.5 624.0 59.9 C625.0 60.3 626.0 60.6 627.0 61.0 C628.0 61.3 629.0 61.6 630.0 62.0 C631.0 62.4 632.0 62.7 633.0 63.1 C634.0 63.4 635.0 63.7 636.0 64.1 C637.0 64.5 638.0 64.8 639.0 65.2 C640.0 65.5 641.0 65.9 642.0 66.2 C643.0 66.6 644.0 66.9 645.0 67.3 C646.0 67.6 647.0 68.0 648.0 68.4 C649.0 68.7 650.0 69.1 651.0 69.5 C652.0 69.9 653.0 70.2 654.0 70.6 C655.0 71.0 656.0 71.4 657.0 71.8 C658.0 72.2 659.0 72.6 660.0 73.0 C661.0 73.4 662.0 73.8 663.0 74.2 C664.0 74.6 665.0 75.0 666.0 75.4 C667.0 75.8 668.0 76.1 669.0 76.5 C670.0 76.9 671.0 77.3 672.0 77.6 C673.0 78.0 674.0 78.4 675.0 78.7 C676.0 79.1 677.0 79.4 678.0 79.8 C679.0 80.1 680.0 80.5 681.0 80.9 C682.0 81.2 683.0 81.6 684.0 81.9 C685.0 82.3 686.0 82.6 687.0 83.0 C688.0 83.4 689.0 83.7 690.0 84.1 C691.0 84.5 692.0 84.9 693.0 85.2 C694.0 85.6 695.0 86.0 696.0 86.4 C697.0 86.8 698.0 87.1 699.0 87.5 C700.0 87.9 701.0 88.3 702.0 88.6 C703.0 89.0 704.0 89.4 705.0 89.7 C706.0 90.1 707.0 90.4 708.0 90.8 C709.0 91.1 710.0 91.5 711.0 91.8 C712.0 92.2 713.0 92.5 714.0 92.8 C715.0 93.2 716.0 93.5 717.0 93.9 C718.0 94.2 719.0 94.6 720.0 94.9 C721.0 95.3 722.0 95.6 723.0 96.0 C724.0 96.4 725.0 96.7 726.0 97.1 C727.0 97.5 728.0 97.8 729.0 98.2 C730.0 98.6 731.0 99.0 732.0 99.3 C733.0 99.7 734.0 100.1 735.0 100.5 C736.0 100.9 737.0 101.3 738.0 101.7 C739.0 102.1 740.0 102.5 741.0 103.0 C742.0 103.4 743.0 103.8 744.0 104.3 C745.0 104.8 746.0 105.3 747.0 105.8 C748.0 106.3 749.0 106.8 750.0 107.3 C751.0 107.9 752.0 108.4 753.0 109.0 C754.0 109.5 755.0 110.1 756.0 110.6 C757.0 111.1 758.0 111.7 759.0 112.2 C760.0 112.8 761.0 113.3 762.0 113.9 C763.0 114.4 764.0 115.0 765.0 115.5 C766.0 116.1 767.0 116.6 768.0 117.1 C769.0 117.7 770.0 118.2 771.0 118.8 C772.0 119.3 773.0 119.8 774.0 120.4 C775.0 120.9 776.0 121.5 777.0 122.0 C778.0 122.5 779.0 123.1 780.0 123.6 C781.0 124.1 782.0 124.7 783.0 125.2 C784.0 125.7 785.0 126.3 786.0 126.8 C787.0 127.3 788.0 127.8 789.0 128.3 C790.0 128.8 791.0 129.3 792.0 129.8 C793.0 130.3 794.0 130.7 795.0 131.2 C796.0 131.7 797.0 132.1 798.0 132.6 C799.0 133.0 800.0 133.5 801.0 134.0 C802.0 134.4 803.0 134.9 804.0 135.3 C805.0 135.8 806.0 136.2 807.0 136.7 C808.0 137.2 809.0 137.6 810.0 138.1 C811.0 138.6 812.0 139.1 813.0 139.5 C814.0 140.0 815.0 140.5 816.0 141.0 C817.0 141.5 818.0 142.0 819.0 142.5 C820.0 143.0 821.0 143.5 822.0 144.0 C823.0 144.5 824.0 145.0 825.0 145.5 C826.0 146.0 827.0 146.4 828.0 146.9 C829.0 147.4 830.0 147.9 831.0 148.3 C832.0 148.8 833.0 149.2 834.0 149.7 C835.0 150.1 836.0 150.5 837.0 151.0 C838.0 151.4 839.0 151.8 840.0 152.2 C841.0 152.7 842.0 153.1 843.0 153.5 C844.0 153.9 845.0 154.4 846.0 154.8 C847.0 155.2 848.0 155.6 849.0 156.0 C850.0 156.5 851.0 156.9 852.0 157.3 C853.0 157.7 854.0 158.1 855.0 158.5 C856.0 158.9 857.0 159.3 858.0 159.7 C859.0 160.1 860.0 160.5 861.0 160.9 C862.0 161.3 863.0 161.7 864.0 162.1 C865.0 162.5 866.0 162.9 867.0 163.3 C868.0 163.7 869.0 164.1 870.0 164.5 C871.0 164.9 872.0 165.3 873.0 165.7 C874.0 166.1 875.0 166.5 876.0 166.9 C877.0 167.3 878.0 167.7 879.0 168.1 C880.0 168.5 881.0 168.9 882.0 169.3 C883.0 169.7 884.0 170.1 885.0 170.5 C886.0 170.9 887.0 171.3 888.0 171.7 C889.0 172.1 890.0 172.5 891.0 172.9 C892.0 173.3 893.0 173.7 894.0 174.1 C895.0 174.5 896.0 174.9 897.0 175.3 C898.0 175.7 899.0 176.1 900.0 176.5 C901.0 176.9 902.0 177.3 903.0 177.7 C904.0 178.1 905.0 178.5 906.0 178.9 C907.0 179.3 908.0 179.7 909.0 180.1 C910.0 180.5 911.0 180.9 912.0 181.3 C913.0 181.7 914.0 182.1 915.0 182.5 C916.0 182.9 917.0 183.3 918.0 183.6 C919.0 184.0 920.0 184.4 921.0 184.8 C922.0 185.2 923.0 185.6 924.0 186.0 C925.0 186.4 926.0 186.8 927.0 187.2 C928.0 187.6 929.0 188.0 930.0 188.4 C931.0 188.8 932.0 189.2 933.0 189.6 C934.0 189.9 935.0 190.3 936.0 190.7 C937.0 191.1 938.0 191.5 939.0 191.9 C940.0 192.3 941.0 192.7 942.0 193.1 C943.0 193.5 944.0 193.8 945.0 194.2 C946.0 194.6 947.0 195.0 948.0 195.4 C949.0 195.8 950.0 196.2 951.0 196.7 C952.0 197.1 953.0 197.5 954.0 198.0 C955.0 198.4 956.0 198.9 957.0 199.3 C958.0 199.8 959.0 200.3 960.0 200.8 C961.0 201.3 962.0 201.8 963.0 202.3 C964.0 202.8 965.0 203.3 966.0 203.8 C967.0 204.3 968.0 204.8 969.0 205.3 C970.0 205.8 971.0 206.4 972.0 206.9 C973.0 207.4 974.0 208.0 975.0 208.5 C976.0 209.0 977.0 209.6 978.0 210.1 C979.0 210.6 980.0 211.2 981.0 211.7 C982.0 212.3 983.0 212.8 984.0 213.3 C985.0 213.9 986.0 214.4 987.0 215.0 C988.0 215.5 989.0 216.0 990.0 216.6 C991.0 217.1 992.0 217.6 993.0 218.2 C994.0 218.7 995.0 219.2 996.0 219.8 C997.0 220.3 998.0 220.8 999.0 221.4 C1000.0 221.9 1001.0 222.5 1002.0 223.0 C1003.0 223.5 1004.0 224.1 1005.0 224.6 C1006.0 225.1 1007.0 225.7 1008.0 226.2 C1009.0 226.7 1010.0 227.2 1011.0 227.8 C1012.0 228.3 1013.0 228.8 1014.0 229.3 C1015.0 229.8 1016.0 230.3 1017.0 230.8 C1018.0 231.3 1019.0 231.8 1020.0 232.3 C1021.0 232.8 1022.0 233.4 1023.0 233.9 C1024.0 234.4 1025.0 234.9 1026.0 235.4 C1027.0 235.9 1028.0 236.4 1029.0 236.9 C1030.0 237.4 1031.0 237.9 1032.0 238.4 C1033.0 239.0 1034.0 239.5 1035.0 240.0 C1036.0 240.6 1037.0 241.1 1038.0 241.6 C1039.0 242.2 1040.0 242.7 1041.0 243.2 C1042.0 243.8 1043.0 244.3 1044.0 244.8 C1045.0 245.4 1046.0 245.9 1047.0 246.4 C1048.0 246.9 1049.0 247.4 1050.0 247.9 C1051.0 248.4 1052.0 248.9 1053.0 249.4 C1054.0 249.9 1055.0 250.3 1056.0 250.8 C1057.0 251.3 1058.0 251.7 1059.0 252.2 C1060.0 252.6 1061.0 253.0 1062.0 253.4 C1063.0 253.9 1064.0 254.3 1065.0 254.7 C1066.0 255.1 1067.0 255.4 1068.0 255.8 C1069.0 256.1 1070.0 256.5 1071.0 256.8 C1072.0 257.1 1073.0 257.4 1074.0 257.7 C1075.0 258.0 1076.0 258.3 1077.0 258.6 C1078.0 258.9 1079.0 259.2 1080.0 259.5 C1081.0 259.8 1082.0 260.1 1083.0 260.4 C1084.0 260.7 1085.2 261.1 1086.0 261.3 C1086.8 261.5 1087.7 261.8 1088.0 261.9" fill="none" stroke="#a04ab3" stroke-width="2.3" stroke-linejoin="round" stroke-linecap="round"/>
</g>
<line x1="192" y1="262.2" x2="1140" y2="262.2" stroke="#3a62a8" stroke-width="1.4"/>
<line x1="7" y1="317.6" x2="1140" y2="317.6" stroke="#4d4d4d" stroke-width="1.7"/>
<line x1="7.5" y1="311.2" x2="1140" y2="311.2" stroke="#089981" stroke-width="1" stroke-dasharray="1 1.5" opacity="0.22"/>
<line x1="7.5" y1="306.5" x2="1140" y2="306.5" stroke="#F23645" stroke-width="1" stroke-dasharray="1 1.5" opacity="0.08"/>
<rect x="1144" y="22.5" width="46" height="17.5" rx="2" fill="#fff" stroke="#eeeeee" stroke-width="1"/>
<text font-family="Liberation Sans, Arial, sans-serif" x="1149.8" y="34.9" font-size="9.20" fill="#2a2e39" stroke="#2a2e39" stroke-width="0.15" textLength="18.0" lengthAdjust="spacingAndGlyphs" >USD</text>
<text font-family="Liberation Sans, Arial, sans-serif" x="1147" y="69.2" font-size="9.5" fill="#3d3d3d" textLength="32.3" lengthAdjust="spacingAndGlyphs">3,700.0</text>
<text font-family="Liberation Sans, Arial, sans-serif" x="1147" y="106.8" font-size="9.5" fill="#3d3d3d" textLength="32.3" lengthAdjust="spacingAndGlyphs">3,600.0</text>
<text font-family="Liberation Sans, Arial, sans-serif" x="1147" y="145.4" font-size="9.5" fill="#3d3d3d" textLength="32.3" lengthAdjust="spacingAndGlyphs">3,500.0</text>
<text font-family="Liberation Sans, Arial, sans-serif" x="1147" y="177.1" font-size="9.5" fill="#3d3d3d" textLength="32.3" lengthAdjust="spacingAndGlyphs">3,420.0</text>
<text font-family="Liberation Sans, Arial, sans-serif" x="1147" y="209.6" font-size="9.5" fill="#3d3d3d" textLength="32.3" lengthAdjust="spacingAndGlyphs">3,340.0</text>
<text font-family="Liberation Sans, Arial, sans-serif" x="1147" y="242.9" font-size="9.5" fill="#3d3d3d" textLength="32.3" lengthAdjust="spacingAndGlyphs">3,260.0</text>
<text font-family="Liberation Sans, Arial, sans-serif" x="1147" y="276.9" font-size="9.5" fill="#3d3d3d" textLength="32.3" lengthAdjust="spacingAndGlyphs">3,180.0</text>
<text font-family="Liberation Sans, Arial, sans-serif" x="1147" y="309.7" font-size="9.5" fill="#3d3d3d" textLength="32.3" lengthAdjust="spacingAndGlyphs">3,105.0</text>
<text font-family="Liberation Sans, Arial, sans-serif" x="1147" y="354.6" font-size="9.5" fill="#3d3d3d" textLength="32.3" lengthAdjust="spacingAndGlyphs">3,005.0</text>
<text font-family="Liberation Sans, Arial, sans-serif" x="1147" y="410.5" font-size="9.5" fill="#3d3d3d" textLength="32.3" lengthAdjust="spacingAndGlyphs">2,885.0</text>
<text font-family="Liberation Sans, Arial, sans-serif" x="1147" y="439.3" font-size="9.5" fill="#3d3d3d" textLength="32.3" lengthAdjust="spacingAndGlyphs">2,825.0</text>
<text font-family="Liberation Sans, Arial, sans-serif" x="1147" y="468.7" font-size="9.5" fill="#3d3d3d" textLength="32.3" lengthAdjust="spacingAndGlyphs">2,765.0</text>
<text font-family="Liberation Sans, Arial, sans-serif" x="1147" y="493.8" font-size="9.5" fill="#3d3d3d" textLength="32.3" lengthAdjust="spacingAndGlyphs">2,715.0</text>
<text font-family="Liberation Sans, Arial, sans-serif" x="1147" y="519.3" font-size="9.5" fill="#3d3d3d" textLength="32.3" lengthAdjust="spacingAndGlyphs">2,665.0</text>
<text font-family="Liberation Sans, Arial, sans-serif" x="1147" y="545.2" font-size="9.5" fill="#3d3d3d" textLength="32.3" lengthAdjust="spacingAndGlyphs">2,615.0</text>
<text font-family="Liberation Sans, Arial, sans-serif" x="1147" y="568.5" font-size="9.5" fill="#3d3d3d" textLength="32.3" lengthAdjust="spacingAndGlyphs">2,571.0</text>
<rect x="1141.2" y="244.3" width="42.0" height="11.9" rx="1.5" fill="#2962ff"/>
<text font-family="Liberation Sans, Arial, sans-serif" x="1147" y="253.7" font-size="9.5" fill="#ffffff" textLength="32.3" lengthAdjust="spacingAndGlyphs">3,207.2</text>
<rect x="1141.2" y="256.4" width="42.0" height="12.0" rx="1.5" fill="#880e9a"/>
<text font-family="Liberation Sans, Arial, sans-serif" x="1147" y="265.8" font-size="9.5" fill="#f6d8f8" textLength="32.3" lengthAdjust="spacingAndGlyphs">3,206.7</text>
<rect x="1141.2" y="305.3" width="47.3" height="21.7" rx="1.5" fill="#089981"/>
<text font-family="Liberation Sans, Arial, sans-serif" x="1147" y="314.1" font-size="9.5" fill="#e8f8f4" textLength="32.3" lengthAdjust="spacingAndGlyphs">3,093.9</text>
<text font-family="Liberation Sans, Arial, sans-serif" x="1147" y="325.0" font-size="9.5" fill="#e8f8f4" textLength="38.0" lengthAdjust="spacingAndGlyphs">02:14:49</text>
<rect x="1141.2" y="327.7" width="42.0" height="12.1" rx="1.5" fill="#3e414d"/>
<text font-family="Liberation Sans, Arial, sans-serif" x="1147" y="337.1" font-size="9.5" fill="#ffffff" textLength="32.3" lengthAdjust="spacingAndGlyphs">3,080.0</text>
<rect x="1141.2" y="362.8" width="42.0" height="12.0" rx="1.5" fill="#ffff00"/>
<text font-family="Liberation Sans, Arial, sans-serif" x="1147" y="372.2" font-size="9.5" fill="#131722" textLength="32.3" lengthAdjust="spacingAndGlyphs">2,967.4</text>
<rect x="1141.2" y="375.2" width="42.0" height="11.8" rx="1.5" fill="#800b0b"/>
<text font-family="Liberation Sans, Arial, sans-serif" x="1147" y="384.5" font-size="9.5" fill="#ffe8e8" textLength="32.3" lengthAdjust="spacingAndGlyphs">2,942.2</text>
<text font-family="Liberation Sans, Arial, sans-serif" x="54.5" y="599.3" font-size="9.7" text-anchor="middle" fill="#3a3a3a" stroke="#3a3a3a" stroke-width="0.15">27</text>
<text font-family="Liberation Sans, Arial, sans-serif" x="110.0" y="599.3" font-size="9.7" text-anchor="middle" fill="#3a3a3a" stroke="#3a3a3a" stroke-width="0.15">29</text>
<text font-family="Liberation Sans, Arial, sans-serif" x="192.5" y="599" font-size="9.4" text-anchor="middle" fill="#131722" font-weight="bold">Nov</text>
<text font-family="Liberation Sans, Arial, sans-serif" x="247.5" y="599.3" font-size="9.7" text-anchor="middle" fill="#3a3a3a" stroke="#3a3a3a" stroke-width="0.15">3</text>
<text font-family="Liberation Sans, Arial, sans-serif" x="302.5" y="599.3" font-size="9.7" text-anchor="middle" fill="#3a3a3a" stroke="#3a3a3a" stroke-width="0.15">5</text>
<text font-family="Liberation Sans, Arial, sans-serif" x="357.5" y="599.3" font-size="9.7" text-anchor="middle" fill="#3a3a3a" stroke="#3a3a3a" stroke-width="0.15">7</text>
<text font-family="Liberation Sans, Arial, sans-serif" x="413.0" y="599.3" font-size="9.7" text-anchor="middle" fill="#3a3a3a" stroke="#3a3a3a" stroke-width="0.15">9</text>
<text font-family="Liberation Sans, Arial, sans-serif" x="468.0" y="599.3" font-size="9.7" text-anchor="middle" fill="#3a3a3a" stroke="#3a3a3a" stroke-width="0.15">11</text>
<text font-family="Liberation Sans, Arial, sans-serif" x="523.0" y="599.3" font-size="9.7" text-anchor="middle" fill="#3a3a3a" stroke="#3a3a3a" stroke-width="0.15">13</text>
<text font-family="Liberation Sans, Arial, sans-serif" x="578.5" y="599.3" font-size="9.7" text-anchor="middle" fill="#3a3a3a" stroke="#3a3a3a" stroke-width="0.15">15</text>
<text font-family="Liberation Sans, Arial, sans-serif" x="633.5" y="599.3" font-size="9.7" text-anchor="middle" fill="#3a3a3a" stroke="#3a3a3a" stroke-width="0.15">17</text>
<text font-family="Liberation Sans, Arial, sans-serif" x="689.0" y="599.3" font-size="9.7" text-anchor="middle" fill="#3a3a3a" stroke="#3a3a3a" stroke-width="0.15">19</text>
<text font-family="Liberation Sans, Arial, sans-serif" x="744.0" y="599.3" font-size="9.7" text-anchor="middle" fill="#3a3a3a" stroke="#3a3a3a" stroke-width="0.15">21</text>
<text font-family="Liberation Sans, Arial, sans-serif" x="799.0" y="599.3" font-size="9.7" text-anchor="middle" fill="#3a3a3a" stroke="#3a3a3a" stroke-width="0.15">23</text>
<text font-family="Liberation Sans, Arial, sans-serif" x="854.0" y="599.3" font-size="9.7" text-anchor="middle" fill="#3a3a3a" stroke="#3a3a3a" stroke-width="0.15">25</text>
<text font-family="Liberation Sans, Arial, sans-serif" x="909.0" y="599.3" font-size="9.7" text-anchor="middle" fill="#3a3a3a" stroke="#3a3a3a" stroke-width="0.15">27</text>
<text font-family="Liberation Sans, Arial, sans-serif" x="964.5" y="599.3" font-size="9.7" text-anchor="middle" fill="#3a3a3a" stroke="#3a3a3a" stroke-width="0.15">29</text>
<text font-family="Liberation Sans, Arial, sans-serif" x="1020.0" y="599" font-size="9.4" text-anchor="middle" fill="#131722" font-weight="bold">Dec</text>
<text font-family="Liberation Sans, Arial, sans-serif" x="1075.5" y="599.3" font-size="9.7" text-anchor="middle" fill="#3a3a3a" stroke="#3a3a3a" stroke-width="0.15">3</text>
<text font-family="Liberation Sans, Arial, sans-serif" x="811.3" y="251.2" font-size="10.3" font-weight="bold" fill="#131722" textLength="82.2" lengthAdjust="spacingAndGlyphs">200-period SMA</text>
<text font-family="Liberation Sans, Arial, sans-serif" x="714.4" y="314.7" font-size="10.6" font-weight="bold" fill="#131722" textLength="174.3" lengthAdjust="spacingAndGlyphs">50 and 100-week MA convergence</text>
<g transform="translate(8.66,619.0) scale(0.603)" fill="#131722"><path d="M14 22H7V11H0V4h14v18zM28 22h-8l7.5-18h8L28 22z"/><circle cx="20" cy="8" r="4"/></g>
<text font-family="Liberation Sans, Arial, sans-serif" x="35.8" y="632.2" font-size="14.6" font-weight="bold" fill="#131722" textLength="87.3" lengthAdjust="spacingAndGlyphs">TradingView</text>
<circle cx="1089.6" cy="557" r="7" fill="none" stroke="#9b3fc0" stroke-width="1.3"/>
<path d="M1091.4 552.6 L1088.0 557.2 L1090.8 557.2 L1087.6 561.4" fill="none" stroke="#9b3fc0" stroke-width="1.4" stroke-linejoin="round"/>
<circle cx="1094.7" cy="551.9" r="2.1" fill="#e0303f" stroke="#fff" stroke-width="1.2"/>
<path d="M1081.6 556.2 Q1082.2 559.2 1085 559.8 Q1082.2 560.4 1081.6 563.4 Q1081 560.4 1078.2 559.8 Q1081 559.2 1081.6 556.2 Z" fill="#6a4cf0" stroke="#fff" stroke-width="0.9" paint-order="stroke"/>
<g><circle cx="1089" cy="574.5" r="6.6" fill="#fff" stroke="#e05050" stroke-width="1.2"/><path d="M1084.5 577 Q1084.5 571 1089 570.5 L1089 577 Z" fill="#62a8e8"/><rect x="1089" y="573" width="4.5" height="1.3" fill="#e04040"/><rect x="1089" y="575.3" width="4.5" height="1.3" fill="#e04040"/></g>
<rect x="1080" y="579.2" width="120" height="70" fill="#ffffff"/>
<polygon points="1087.2,580.2 1087.2,646.8 1107.5,646.8" fill="url(#lg)"/>
<polygon points="1087.5,580.2 1103.5,580.2 1103.5,633.2 1123.5,633.2 1123.5,646.8 1107.6,646.8" fill="#1e7bc8"/>
<text x="1128" y="621" font-size="32" font-weight="500" fill="#1e7bc8" font-family="Liberation Sans, Noto Sans CJK SC, sans-serif" textLength="66.5" lengthAdjust="spacingAndGlyphs">链懂</text>
<text font-family="Liberation Sans, Arial, sans-serif" x="1130.6" y="635.1" font-size="6.3" font-weight="bold" fill="#1e7bc8" textLength="65.8" lengthAdjust="spacing">NEATDOWN.COM</text>
</svg>
</body></html>
